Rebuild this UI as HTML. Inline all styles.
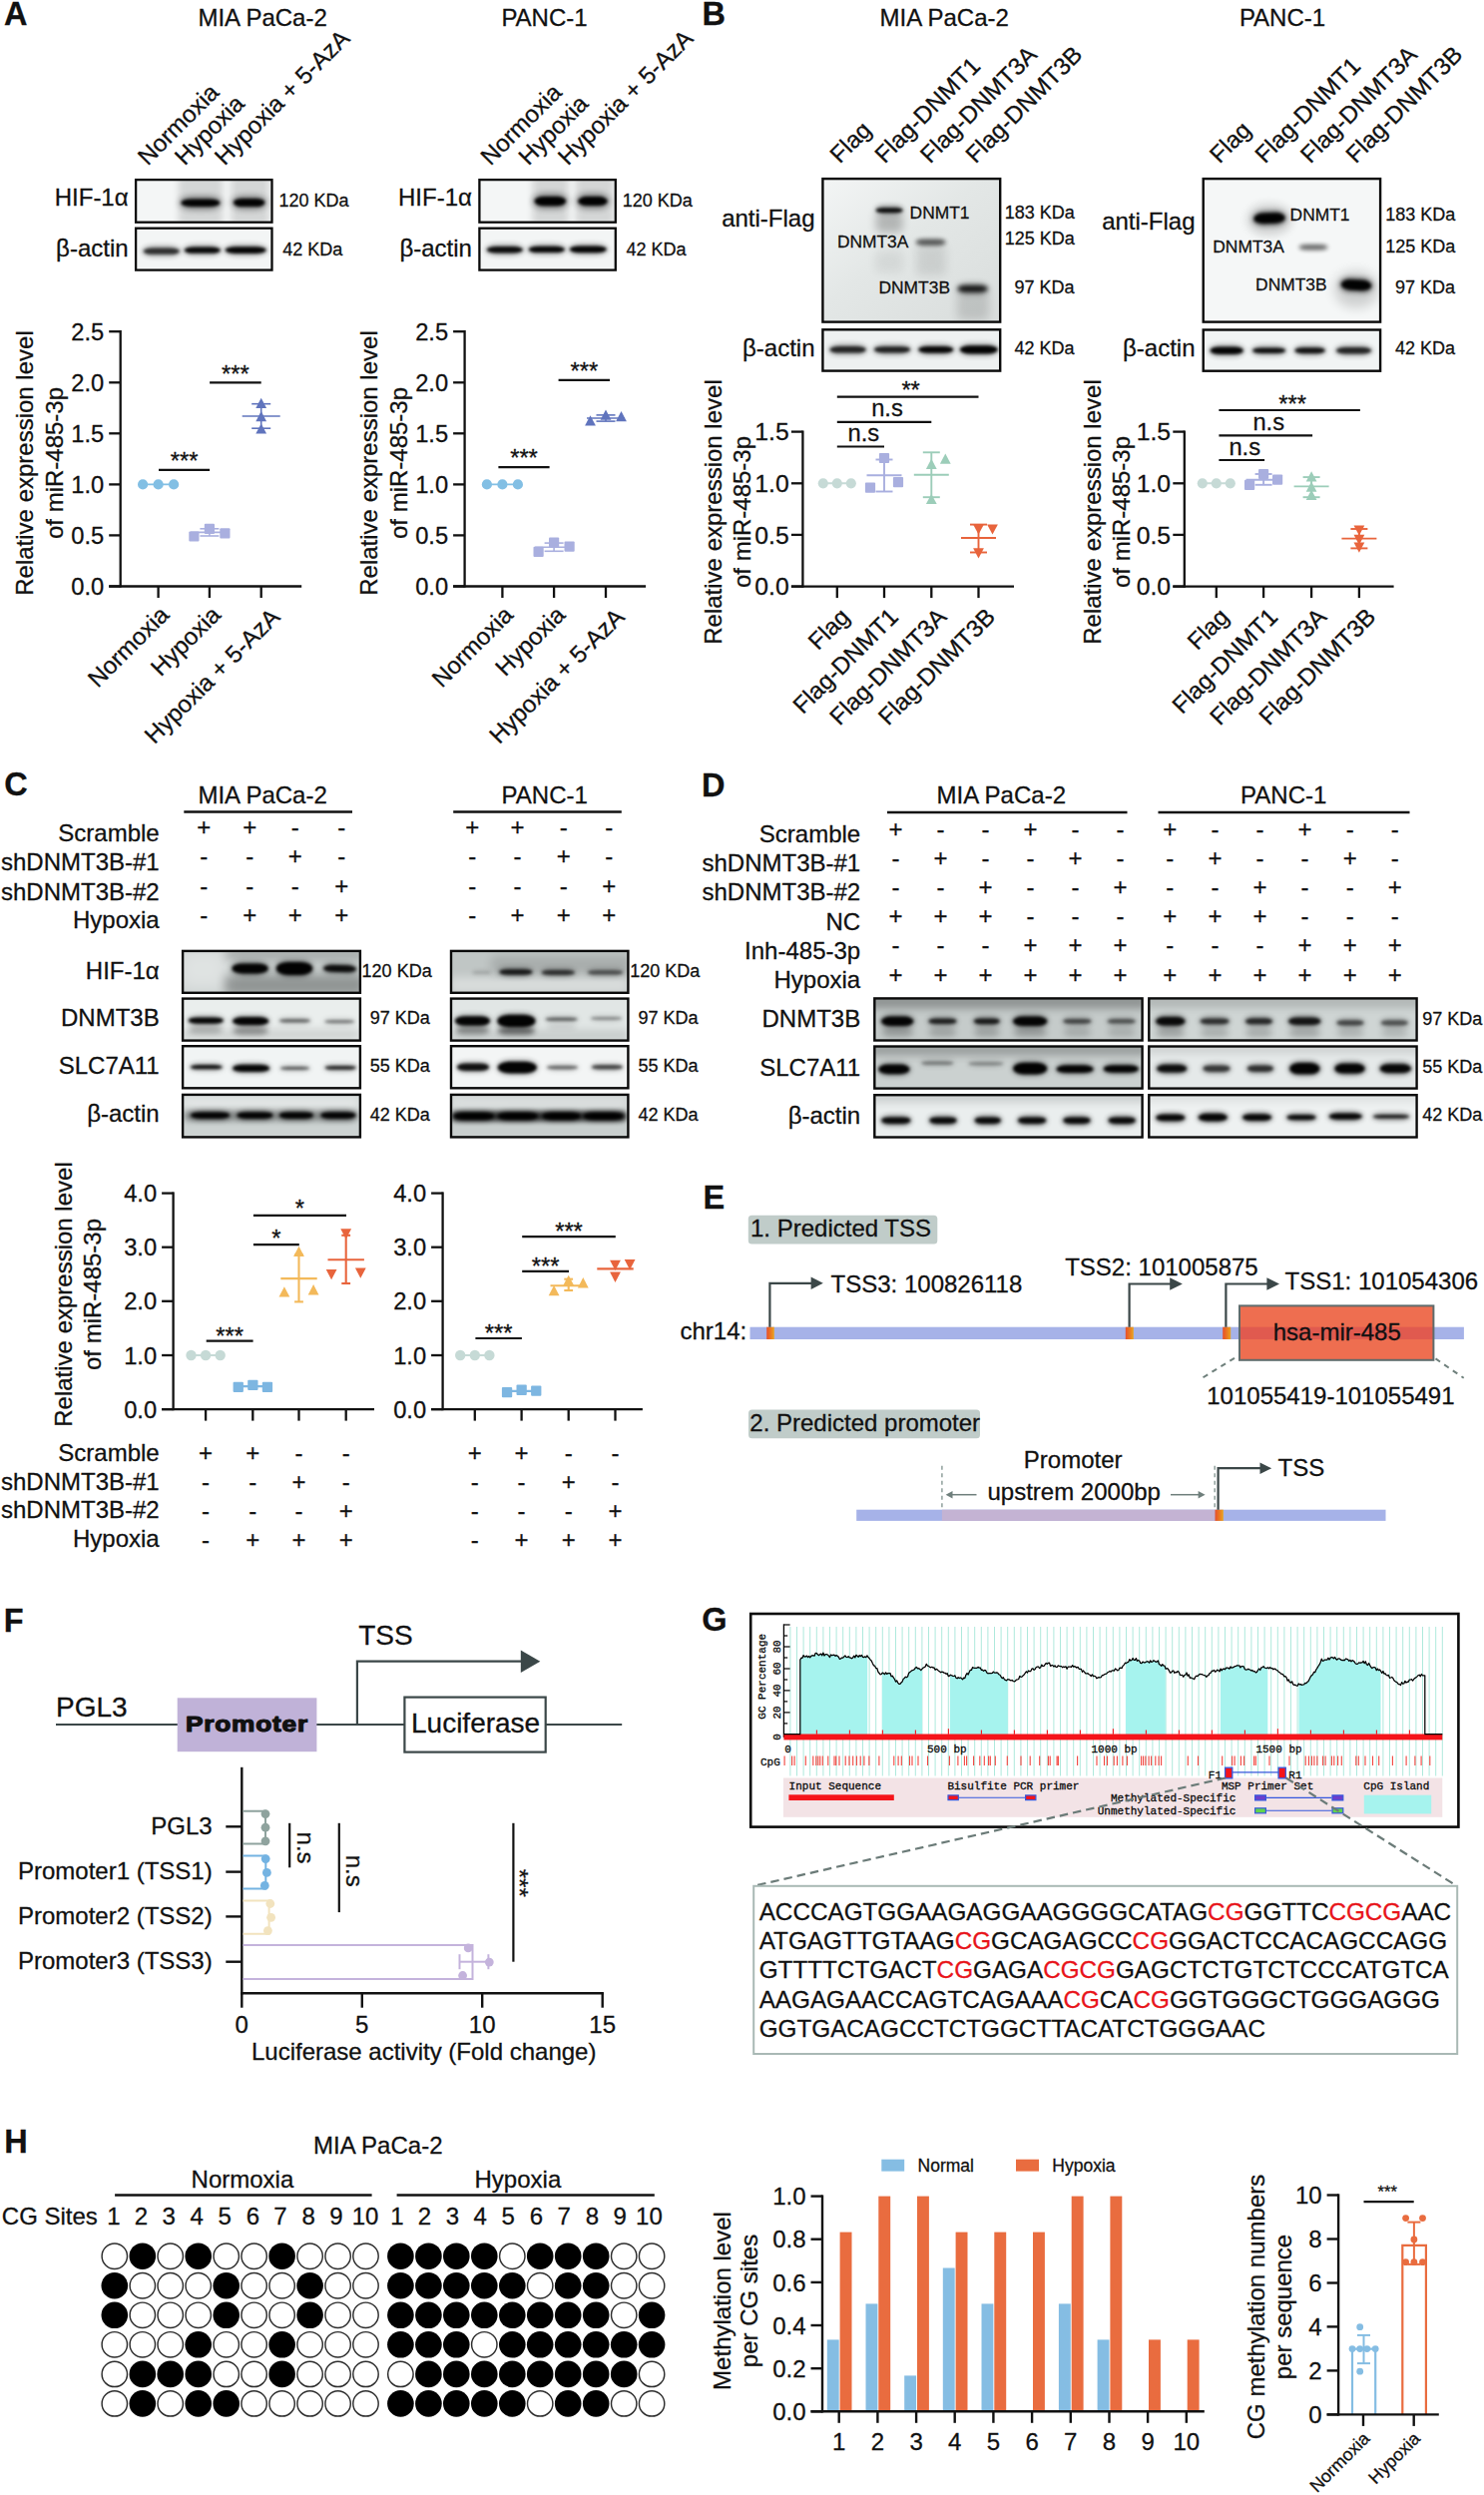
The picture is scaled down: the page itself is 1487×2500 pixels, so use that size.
<!DOCTYPE html>
<html lang="en"><head><meta charset="utf-8"><title>Figure</title>
<style>html,body{margin:0;padding:0;background:#fff}svg{display:block}text{font-family:"Liberation Sans", sans-serif;fill:#111;stroke:#111;stroke-width:.28px}text.m{font-family:"Liberation Mono",monospace;stroke:#000;stroke-width:0.3px}</style>
</head><body>
<svg width="1487" height="2500" viewBox="0 0 1487 2500">
<defs><filter id="b1_5" x="-30%" y="-100%" width="160%" height="300%"><feGaussianBlur stdDeviation="1.5"/></filter><filter id="b1_6" x="-30%" y="-100%" width="160%" height="300%"><feGaussianBlur stdDeviation="1.6"/></filter><filter id="b1_7" x="-30%" y="-100%" width="160%" height="300%"><feGaussianBlur stdDeviation="1.7"/></filter><filter id="b1_8" x="-30%" y="-100%" width="160%" height="300%"><feGaussianBlur stdDeviation="1.8"/></filter><filter id="b1_9" x="-30%" y="-100%" width="160%" height="300%"><feGaussianBlur stdDeviation="1.9"/></filter><filter id="b2_0" x="-30%" y="-100%" width="160%" height="300%"><feGaussianBlur stdDeviation="2.0"/></filter><filter id="b2_6" x="-30%" y="-100%" width="160%" height="300%"><feGaussianBlur stdDeviation="2.6"/></filter><filter id="b2_8" x="-30%" y="-100%" width="160%" height="300%"><feGaussianBlur stdDeviation="2.8"/></filter><filter id="b3" x="-30%" y="-100%" width="160%" height="300%"><feGaussianBlur stdDeviation="3"/></filter><filter id="b3_2" x="-30%" y="-100%" width="160%" height="300%"><feGaussianBlur stdDeviation="3.2"/></filter><filter id="b3_5" x="-30%" y="-100%" width="160%" height="300%"><feGaussianBlur stdDeviation="3.5"/></filter><filter id="b4" x="-30%" y="-100%" width="160%" height="300%"><feGaussianBlur stdDeviation="4"/></filter><filter id="b5" x="-30%" y="-100%" width="160%" height="300%"><feGaussianBlur stdDeviation="5"/></filter><filter id="b6" x="-30%" y="-100%" width="160%" height="300%"><feGaussianBlur stdDeviation="6"/></filter><filter id="b9" x="-30%" y="-100%" width="160%" height="300%"><feGaussianBlur stdDeviation="9"/></filter><linearGradient id="G1" x1="0" y1="0" x2="1" y2="1"><stop offset="0" stop-color="#f3f5f5"/><stop offset="0.45" stop-color="#e3e7e6"/><stop offset="1" stop-color="#d9dddc"/></linearGradient><linearGradient id="tssg" x1="0" x2="1" y1="0" y2="0"><stop offset="0" stop-color="#e84f2a"/><stop offset="0.55" stop-color="#ea7a22"/><stop offset="1" stop-color="#e8a622"/></linearGradient></defs>
<rect width="1487" height="2500" fill="#fff"/>
<text x="4.0" y="24.7" font-size="32.5" font-weight="bold">A</text>
<text x="263.1" y="25.6" font-size="24" text-anchor="middle">MIA PaCa-2</text>
<text x="545.5" y="25.6" font-size="24" text-anchor="middle">PANC-1</text>
<text transform="translate(148.0 166.7) rotate(-45)" font-size="24">Normoxia</text>
<text transform="translate(185.0 166.7) rotate(-45)" font-size="24">Hypoxia</text>
<text transform="translate(225.0 166.7) rotate(-45)" font-size="24">Hypoxia + 5-AzA</text>
<text transform="translate(491.5 166.7) rotate(-45)" font-size="24">Normoxia</text>
<text transform="translate(529.5 166.7) rotate(-45)" font-size="24">Hypoxia</text>
<text transform="translate(569.0 166.7) rotate(-45)" font-size="24">Hypoxia + 5-AzA</text>
<clipPath id="c1"><rect x="136.1" y="180.1" width="136.4" height="42.6"/></clipPath>
<g clip-path="url(#c1)">
<rect x="136.1" y="180.1" width="136.4" height="42.6" fill="#f4f6f6"/>
<rect x="178.9" y="175.0" width="44.0" height="50.0" rx="4.0" ry="4.0" fill="#000" opacity="0.13" filter="url(#b3_5)"/>
<rect x="231.5" y="175.0" width="38.0" height="50.0" rx="4.0" ry="4.0" fill="#000" opacity="0.13" filter="url(#b3_5)"/>
<rect x="179.9" y="196.7" width="42.0" height="13.0" rx="13.0" ry="6.5" fill="#000" opacity="0.45" filter="url(#b3_2)"/>
<rect x="232.2" y="196.5" width="35.0" height="13.0" rx="11.4" ry="6.5" fill="#000" opacity="0.45" filter="url(#b3_2)"/>
<rect x="181.4" y="199.4" width="39.0" height="7.6" rx="10.9" ry="3.8" fill="#000" opacity="0.97" filter="url(#b1_7)"/>
<rect x="233.9" y="198.9" width="31.5" height="8.2" rx="9.3" ry="4.1" fill="#000" opacity="0.97" filter="url(#b1_7)"/>
</g>
<rect x="136.1" y="180.1" width="136.4" height="42.6" fill="none" stroke="#0a0a0a" stroke-width="2.3"/>
<text x="128.6" y="206.2" font-size="24" text-anchor="end">HIF-1α</text>
<text x="279.5" y="206.5" font-size="18">120 KDa</text>
<clipPath id="c2"><rect x="136.1" y="228.7" width="136.4" height="41.9"/></clipPath>
<g clip-path="url(#c2)">
<rect x="136.1" y="228.7" width="136.4" height="41.9" fill="#f3f5f5"/>
<rect x="142.3" y="246.1" width="39.0" height="11.2" rx="11.9" ry="5.6" fill="#000" opacity="0.3" filter="url(#b2_6)"/>
<rect x="143.8" y="248.6" width="36.0" height="6.2" rx="9.8" ry="3.1" fill="#000" opacity="0.72" filter="url(#b1_5)"/>
<rect x="183.3" y="245.1" width="39.0" height="11.2" rx="11.9" ry="5.6" fill="#000" opacity="0.3" filter="url(#b2_6)"/>
<rect x="184.8" y="247.6" width="36.0" height="6.2" rx="9.8" ry="3.1" fill="#000" opacity="0.95" filter="url(#b1_5)"/>
<rect x="224.2" y="244.8" width="44.0" height="11.6" rx="13.1" ry="5.8" fill="#000" opacity="0.3" filter="url(#b2_6)"/>
<rect x="225.7" y="247.3" width="41.0" height="6.6" rx="11.0" ry="3.3" fill="#000" opacity="0.97" filter="url(#b1_5)"/>
</g>
<rect x="136.1" y="228.7" width="136.4" height="41.9" fill="none" stroke="#0a0a0a" stroke-width="2.3"/>
<text x="128.6" y="257.0" font-size="24" text-anchor="end">β-actin</text>
<text x="283.3" y="255.6" font-size="18">42 KDa</text>
<clipPath id="c3"><rect x="480.4" y="180.1" width="136.4" height="42.6"/></clipPath>
<g clip-path="url(#c3)">
<rect x="480.4" y="180.1" width="136.4" height="42.6" fill="#f4f6f6"/>
<rect x="533.5" y="175.0" width="36.0" height="50.0" rx="4.0" ry="4.0" fill="#000" opacity="0.13" filter="url(#b3_5)"/>
<rect x="577.0" y="175.0" width="38.0" height="50.0" rx="4.0" ry="4.0" fill="#000" opacity="0.13" filter="url(#b3_5)"/>
<rect x="533.9" y="194.1" width="35.0" height="15.0" rx="12.0" ry="7.5" fill="#000" opacity="0.45" filter="url(#b3_2)"/>
<rect x="577.5" y="194.1" width="33.0" height="15.0" rx="11.6" ry="7.5" fill="#000" opacity="0.45" filter="url(#b3_2)"/>
<rect x="535.6" y="196.9" width="31.5" height="9.4" rx="9.7" ry="4.7" fill="#000" opacity="0.98" filter="url(#b1_8)"/>
<rect x="579.2" y="197.1" width="29.5" height="9.0" rx="9.1" ry="4.5" fill="#000" opacity="0.98" filter="url(#b1_8)"/>
</g>
<rect x="480.4" y="180.1" width="136.4" height="42.6" fill="none" stroke="#0a0a0a" stroke-width="2.3"/>
<text x="472.9" y="206.2" font-size="24" text-anchor="end">HIF-1α</text>
<text x="623.8" y="206.5" font-size="18">120 KDa</text>
<clipPath id="c4"><rect x="480.4" y="228.7" width="136.4" height="41.9"/></clipPath>
<g clip-path="url(#c4)">
<rect x="480.4" y="228.7" width="136.4" height="41.9" fill="#f3f5f5"/>
<rect x="486.3" y="244.6" width="39.0" height="11.4" rx="11.9" ry="5.7" fill="#000" opacity="0.3" filter="url(#b2_6)"/>
<rect x="487.8" y="247.1" width="36.0" height="6.4" rx="9.9" ry="3.2" fill="#000" opacity="0.93" filter="url(#b1_5)"/>
<rect x="528.3" y="244.2" width="39.0" height="11.4" rx="11.9" ry="5.7" fill="#000" opacity="0.3" filter="url(#b2_6)"/>
<rect x="529.8" y="246.7" width="36.0" height="6.4" rx="9.9" ry="3.2" fill="#000" opacity="0.95" filter="url(#b1_5)"/>
<rect x="569.3" y="243.9" width="40.0" height="11.8" rx="12.2" ry="5.9" fill="#000" opacity="0.3" filter="url(#b2_6)"/>
<rect x="570.8" y="246.4" width="37.0" height="6.8" rx="10.2" ry="3.4" fill="#000" opacity="0.97" filter="url(#b1_5)"/>
</g>
<rect x="480.4" y="228.7" width="136.4" height="41.9" fill="none" stroke="#0a0a0a" stroke-width="2.3"/>
<text x="472.9" y="257.0" font-size="24" text-anchor="end">β-actin</text>
<text x="627.6" y="255.6" font-size="18">42 KDa</text>
<line x1="120.7" y1="331.1" x2="120.7" y2="588.6" stroke="#111" stroke-width="2.3"/>
<line x1="109.2" y1="587.5" x2="302.2" y2="587.5" stroke="#111" stroke-width="2.3"/>
<line x1="109.2" y1="587.5" x2="120.7" y2="587.5" stroke="#111" stroke-width="2.3"/>
<text x="104.2" y="596.0" font-size="23.7" text-anchor="end">0.0</text>
<line x1="109.2" y1="536.4" x2="120.7" y2="536.4" stroke="#111" stroke-width="2.3"/>
<text x="104.2" y="544.9" font-size="23.7" text-anchor="end">0.5</text>
<line x1="109.2" y1="485.4" x2="120.7" y2="485.4" stroke="#111" stroke-width="2.3"/>
<text x="104.2" y="493.9" font-size="23.7" text-anchor="end">1.0</text>
<line x1="109.2" y1="434.3" x2="120.7" y2="434.3" stroke="#111" stroke-width="2.3"/>
<text x="104.2" y="442.8" font-size="23.7" text-anchor="end">1.5</text>
<line x1="109.2" y1="383.3" x2="120.7" y2="383.3" stroke="#111" stroke-width="2.3"/>
<text x="104.2" y="391.7" font-size="23.7" text-anchor="end">2.0</text>
<line x1="109.2" y1="332.2" x2="120.7" y2="332.2" stroke="#111" stroke-width="2.3"/>
<text x="104.2" y="340.7" font-size="23.7" text-anchor="end">2.5</text>
<line x1="158.6" y1="587.5" x2="158.6" y2="599.0" stroke="#111" stroke-width="2.3"/>
<line x1="209.9" y1="587.5" x2="209.9" y2="599.0" stroke="#111" stroke-width="2.3"/>
<line x1="261.7" y1="587.5" x2="261.7" y2="599.0" stroke="#111" stroke-width="2.3"/>
<text transform="translate(33.4 464.0) rotate(-90)" font-size="24" text-anchor="middle">Relative expression level</text>
<text transform="translate(62.7 464.0) rotate(-90)" font-size="24" text-anchor="middle">of miR-485-3p</text>
<line x1="139.6" y1="485.4" x2="177.6" y2="485.4" stroke="#82bfe4" stroke-width="1.6"/>
<circle cx="143.1" cy="485.4" r="5.1" fill="#82bfe4"/>
<circle cx="158.6" cy="485.4" r="5.1" fill="#82bfe4"/>
<circle cx="174.1" cy="485.4" r="5.1" fill="#82bfe4"/>
<line x1="209.9" y1="529.8" x2="209.9" y2="537.0" stroke="#a9afdf" stroke-width="1.6"/>
<line x1="200.4" y1="529.8" x2="219.4" y2="529.8" stroke="#a9afdf" stroke-width="1.6"/>
<line x1="200.4" y1="537.0" x2="219.4" y2="537.0" stroke="#a9afdf" stroke-width="1.6"/>
<line x1="190.9" y1="533.4" x2="228.9" y2="533.4" stroke="#a9afdf" stroke-width="1.6"/>
<rect x="189.3" y="532.4" width="10.2" height="10.2" fill="#a9afdf" rx="1"/>
<rect x="204.8" y="524.7" width="10.2" height="10.2" fill="#a9afdf" rx="1"/>
<rect x="220.3" y="529.3" width="10.2" height="10.2" fill="#a9afdf" rx="1"/>
<line x1="261.7" y1="404.7" x2="261.7" y2="429.2" stroke="#6074bd" stroke-width="1.6"/>
<line x1="252.2" y1="404.7" x2="271.2" y2="404.7" stroke="#6074bd" stroke-width="1.6"/>
<line x1="252.2" y1="429.2" x2="271.2" y2="429.2" stroke="#6074bd" stroke-width="1.6"/>
<line x1="242.7" y1="417.0" x2="280.7" y2="417.0" stroke="#6074bd" stroke-width="1.6"/>
<path d="M261.7 398.8 L267.1 409.0 L256.3 409.0 Z" fill="#6074bd"/>
<path d="M261.7 412.1 L267.1 422.3 L256.3 422.3 Z" fill="#6074bd"/>
<path d="M261.7 424.4 L267.1 434.6 L256.3 434.6 Z" fill="#6074bd"/>
<line x1="159.0" y1="470.8" x2="210.1" y2="470.8" stroke="#111" stroke-width="2.2"/>
<text x="184.6" y="470.0" font-size="23.7" text-anchor="middle">***</text>
<line x1="210.1" y1="383.4" x2="261.7" y2="383.4" stroke="#111" stroke-width="2.2"/>
<text x="235.9" y="382.6" font-size="23.7" text-anchor="middle">***</text>
<text transform="translate(170.6 617.5) rotate(-45)" font-size="24" text-anchor="end">Normoxia</text>
<text transform="translate(222.4 617.5) rotate(-45)" font-size="24" text-anchor="end">Hypoxia</text>
<text transform="translate(281.7 619.7) rotate(-45)" font-size="24" text-anchor="end">Hypoxia + 5-AzA</text>
<line x1="465.6" y1="331.1" x2="465.6" y2="588.6" stroke="#111" stroke-width="2.3"/>
<line x1="454.1" y1="587.5" x2="647.1" y2="587.5" stroke="#111" stroke-width="2.3"/>
<line x1="454.1" y1="587.5" x2="465.6" y2="587.5" stroke="#111" stroke-width="2.3"/>
<text x="449.1" y="596.0" font-size="23.7" text-anchor="end">0.0</text>
<line x1="454.1" y1="536.4" x2="465.6" y2="536.4" stroke="#111" stroke-width="2.3"/>
<text x="449.1" y="544.9" font-size="23.7" text-anchor="end">0.5</text>
<line x1="454.1" y1="485.4" x2="465.6" y2="485.4" stroke="#111" stroke-width="2.3"/>
<text x="449.1" y="493.9" font-size="23.7" text-anchor="end">1.0</text>
<line x1="454.1" y1="434.3" x2="465.6" y2="434.3" stroke="#111" stroke-width="2.3"/>
<text x="449.1" y="442.8" font-size="23.7" text-anchor="end">1.5</text>
<line x1="454.1" y1="383.3" x2="465.6" y2="383.3" stroke="#111" stroke-width="2.3"/>
<text x="449.1" y="391.7" font-size="23.7" text-anchor="end">2.0</text>
<line x1="454.1" y1="332.2" x2="465.6" y2="332.2" stroke="#111" stroke-width="2.3"/>
<text x="449.1" y="340.7" font-size="23.7" text-anchor="end">2.5</text>
<line x1="503.4" y1="587.5" x2="503.4" y2="599.0" stroke="#111" stroke-width="2.3"/>
<line x1="555.1" y1="587.5" x2="555.1" y2="599.0" stroke="#111" stroke-width="2.3"/>
<line x1="607.0" y1="587.5" x2="607.0" y2="599.0" stroke="#111" stroke-width="2.3"/>
<text transform="translate(378.3 464.0) rotate(-90)" font-size="24" text-anchor="middle">Relative expression level</text>
<text transform="translate(407.6 464.0) rotate(-90)" font-size="24" text-anchor="middle">of miR-485-3p</text>
<line x1="484.4" y1="485.4" x2="522.4" y2="485.4" stroke="#82bfe4" stroke-width="1.6"/>
<circle cx="487.9" cy="485.4" r="5.1" fill="#82bfe4"/>
<circle cx="503.4" cy="485.4" r="5.1" fill="#82bfe4"/>
<circle cx="518.9" cy="485.4" r="5.1" fill="#82bfe4"/>
<line x1="555.1" y1="544.1" x2="555.1" y2="552.3" stroke="#a9afdf" stroke-width="1.6"/>
<line x1="545.6" y1="544.1" x2="564.6" y2="544.1" stroke="#a9afdf" stroke-width="1.6"/>
<line x1="545.6" y1="552.3" x2="564.6" y2="552.3" stroke="#a9afdf" stroke-width="1.6"/>
<line x1="536.1" y1="548.2" x2="574.1" y2="548.2" stroke="#a9afdf" stroke-width="1.6"/>
<rect x="534.5" y="547.7" width="10.2" height="10.2" fill="#a9afdf" rx="1"/>
<rect x="550.0" y="538.5" width="10.2" height="10.2" fill="#a9afdf" rx="1"/>
<rect x="565.5" y="542.6" width="10.2" height="10.2" fill="#a9afdf" rx="1"/>
<line x1="607.0" y1="415.9" x2="607.0" y2="422.1" stroke="#6074bd" stroke-width="1.6"/>
<line x1="597.5" y1="415.9" x2="616.5" y2="415.9" stroke="#6074bd" stroke-width="1.6"/>
<line x1="597.5" y1="422.1" x2="616.5" y2="422.1" stroke="#6074bd" stroke-width="1.6"/>
<line x1="588.0" y1="419.0" x2="626.0" y2="419.0" stroke="#6074bd" stroke-width="1.6"/>
<path d="M591.5 416.2 L596.9 426.4 L586.1 426.4 Z" fill="#6074bd"/>
<path d="M607.0 410.6 L612.4 420.8 L601.6 420.8 Z" fill="#6074bd"/>
<path d="M622.5 412.1 L627.9 422.3 L617.1 422.3 Z" fill="#6074bd"/>
<line x1="499.4" y1="468.2" x2="550.6" y2="468.2" stroke="#111" stroke-width="2.2"/>
<text x="525.0" y="467.0" font-size="23.7" text-anchor="middle">***</text>
<line x1="559.6" y1="380.9" x2="611.0" y2="380.9" stroke="#111" stroke-width="2.2"/>
<text x="585.3" y="379.7" font-size="23.7" text-anchor="middle">***</text>
<text transform="translate(515.4 617.5) rotate(-45)" font-size="24" text-anchor="end">Normoxia</text>
<text transform="translate(567.6 617.5) rotate(-45)" font-size="24" text-anchor="end">Hypoxia</text>
<text transform="translate(627.0 619.7) rotate(-45)" font-size="24" text-anchor="end">Hypoxia + 5-AzA</text>
<text x="703.4" y="24.7" font-size="32.5" font-weight="bold">B</text>
<text x="946.2" y="25.6" font-size="24" text-anchor="middle">MIA PaCa-2</text>
<text x="1285.0" y="25.6" font-size="24" text-anchor="middle">PANC-1</text>
<text transform="translate(841.5 164.7) rotate(-45)" font-size="24">Flag</text>
<text transform="translate(886.5 164.7) rotate(-45)" font-size="24">Flag-DNMT1</text>
<text transform="translate(932.0 164.7) rotate(-45)" font-size="24">Flag-DNMT3A</text>
<text transform="translate(977.5 164.7) rotate(-45)" font-size="24">Flag-DNMT3B</text>
<text transform="translate(1222.0 164.7) rotate(-45)" font-size="24">Flag</text>
<text transform="translate(1267.5 164.7) rotate(-45)" font-size="24">Flag-DNMT1</text>
<text transform="translate(1313.0 164.7) rotate(-45)" font-size="24">Flag-DNMT3A</text>
<text transform="translate(1358.5 164.7) rotate(-45)" font-size="24">Flag-DNMT3B</text>
<clipPath id="c5"><rect x="824.4" y="179.1" width="177.8" height="143.5"/></clipPath>
<g clip-path="url(#c5)">
<rect x="824.4" y="179.1" width="177.8" height="143.5" fill="url(#G1)"/>
<rect x="877.5" y="211.0" width="27.0" height="22.0" rx="5.0" ry="5.0" fill="#000" opacity="0.22" filter="url(#b4)"/>
<rect x="877.0" y="251.0" width="28.0" height="22.0" rx="5.0" ry="5.0" fill="#000" opacity="0.06" filter="url(#b5)"/>
<rect x="918.0" y="244.0" width="30.0" height="32.0" rx="5.0" ry="5.0" fill="#000" opacity="0.09" filter="url(#b5)"/>
<rect x="959.0" y="289.0" width="32.0" height="32.0" rx="5.0" ry="5.0" fill="#000" opacity="0.13" filter="url(#b5)"/>
<rect x="877.6" y="208.2" width="27.0" height="5.0" rx="7.5" ry="2.5" fill="#000" opacity="0.9" filter="url(#b1_5)"/>
<rect x="877.1" y="205.5" width="28.0" height="9.0" rx="8.8" ry="4.5" fill="#000" opacity="0.3" filter="url(#b2_6)"/>
<rect x="917.6" y="239.4" width="30.0" height="6.5" rx="8.5" ry="3.2" fill="#000" opacity="0.62" filter="url(#b2_0)"/>
<rect x="959.6" y="285.9" width="30.0" height="6.8" rx="8.6" ry="3.4" fill="#000" opacity="0.85" filter="url(#b1_9)"/>
<rect x="958.6" y="283.8" width="32.0" height="11.0" rx="10.2" ry="5.5" fill="#000" opacity="0.3" filter="url(#b3)"/>
</g>
<rect x="824.4" y="179.1" width="177.8" height="143.5" fill="none" stroke="#0a0a0a" stroke-width="2.4"/>
<text x="911.6" y="218.8" font-size="17.4">DNMT1</text>
<text x="838.9" y="247.5" font-size="17.4">DNMT3A</text>
<text x="880.5" y="294.1" font-size="17.4">DNMT3B</text>
<clipPath id="c6"><rect x="824.4" y="330.3" width="177.8" height="41.3"/></clipPath>
<g clip-path="url(#c6)">
<rect x="824.4" y="330.3" width="177.8" height="41.3" fill="#eef1f1"/>
<rect x="830.1" y="344.6" width="39.0" height="11.5" rx="11.9" ry="5.8" fill="#000" opacity="0.3" filter="url(#b2_6)"/>
<rect x="831.6" y="347.1" width="36.0" height="6.5" rx="9.9" ry="3.2" fill="#000" opacity="0.78" filter="url(#b1_6)"/>
<rect x="874.5" y="344.7" width="39.0" height="11.2" rx="11.9" ry="5.6" fill="#000" opacity="0.3" filter="url(#b2_6)"/>
<rect x="876.0" y="347.2" width="36.0" height="6.2" rx="9.8" ry="3.1" fill="#000" opacity="0.8" filter="url(#b1_6)"/>
<rect x="918.8" y="344.4" width="38.0" height="11.8" rx="11.8" ry="5.9" fill="#000" opacity="0.3" filter="url(#b2_6)"/>
<rect x="920.3" y="346.9" width="35.0" height="6.8" rx="9.7" ry="3.4" fill="#000" opacity="0.95" filter="url(#b1_6)"/>
<rect x="960.3" y="343.7" width="41.0" height="13.2" rx="12.9" ry="6.6" fill="#000" opacity="0.3" filter="url(#b2_6)"/>
<rect x="961.8" y="346.2" width="38.0" height="8.2" rx="10.8" ry="4.1" fill="#000" opacity="0.98" filter="url(#b1_6)"/>
</g>
<rect x="824.4" y="330.3" width="177.8" height="41.3" fill="none" stroke="#0a0a0a" stroke-width="2.4"/>
<text x="816.5" y="226.8" font-size="24" text-anchor="end">anti-Flag</text>
<text x="816.5" y="357.3" font-size="24" text-anchor="end">β-actin</text>
<text x="1006.8" y="218.8" font-size="18">183 KDa</text>
<text x="1006.8" y="244.6" font-size="18">125 KDa</text>
<text x="1016.6" y="294.1" font-size="18">97 KDa</text>
<text x="1016.6" y="355.0" font-size="18">42 KDa</text>
<clipPath id="c7"><rect x="1205.7" y="179.1" width="177.4" height="143.5"/></clipPath>
<g clip-path="url(#c7)">
<rect x="1205.7" y="179.1" width="177.4" height="143.5" fill="#f5f7f7"/>
<rect x="1250.0" y="205.0" width="44.0" height="30.0" rx="18.1" ry="15.0" fill="#000" opacity="0.16" filter="url(#b5)"/>
<rect x="1337.0" y="272.0" width="44.0" height="36.0" rx="19.8" ry="18.0" fill="#000" opacity="0.16" filter="url(#b6)"/>
<rect x="1255.0" y="211.2" width="34.0" height="15.0" rx="11.8" ry="7.5" fill="#000" opacity="0.5" filter="url(#b2_8)" transform="rotate(-2 1272.0 218.7)"/>
<rect x="1256.5" y="213.6" width="31.0" height="10.2" rx="9.8" ry="5.1" fill="#000" opacity="0.98" filter="url(#b1_6)" transform="rotate(-2 1272.0 218.7)"/>
<rect x="1301.5" y="244.9" width="29.0" height="5.6" rx="8.1" ry="2.8" fill="#000" opacity="0.6" filter="url(#b2_0)"/>
<rect x="1342.0" y="278.1" width="34.0" height="15.0" rx="11.8" ry="7.5" fill="#000" opacity="0.5" filter="url(#b2_8)" transform="rotate(3 1359.0 285.6)"/>
<rect x="1344.0" y="280.5" width="30.0" height="10.2" rx="9.6" ry="5.1" fill="#000" opacity="0.98" filter="url(#b1_6)" transform="rotate(3 1359.0 285.6)"/>
</g>
<rect x="1205.7" y="179.1" width="177.4" height="143.5" fill="none" stroke="#0a0a0a" stroke-width="2.4"/>
<text x="1292.6" y="221.4" font-size="17.4">DNMT1</text>
<text x="1215.3" y="252.6" font-size="17.4">DNMT3A</text>
<text x="1258.1" y="290.9" font-size="17.4">DNMT3B</text>
<clipPath id="c8"><rect x="1205.7" y="330.5" width="177.4" height="41.2"/></clipPath>
<g clip-path="url(#c8)">
<rect x="1205.7" y="330.5" width="177.4" height="41.2" fill="#f1f4f4"/>
<rect x="1211.2" y="344.9" width="36.0" height="12.6" rx="11.6" ry="6.3" fill="#000" opacity="0.3" filter="url(#b2_6)"/>
<rect x="1212.7" y="347.4" width="33.0" height="7.6" rx="9.5" ry="3.8" fill="#000" opacity="0.97" filter="url(#b1_6)"/>
<rect x="1253.6" y="345.9" width="36.0" height="10.6" rx="11.0" ry="5.3" fill="#000" opacity="0.3" filter="url(#b2_6)"/>
<rect x="1255.1" y="348.4" width="33.0" height="5.6" rx="9.0" ry="2.8" fill="#000" opacity="0.9" filter="url(#b1_6)"/>
<rect x="1296.1" y="345.7" width="33.0" height="11.0" rx="10.4" ry="5.5" fill="#000" opacity="0.3" filter="url(#b2_6)"/>
<rect x="1297.6" y="348.2" width="30.0" height="6.0" rx="8.4" ry="3.0" fill="#000" opacity="0.88" filter="url(#b1_6)"/>
<rect x="1337.5" y="345.5" width="38.0" height="11.4" rx="11.7" ry="5.7" fill="#000" opacity="0.3" filter="url(#b2_6)"/>
<rect x="1339.0" y="348.0" width="35.0" height="6.4" rx="9.6" ry="3.2" fill="#000" opacity="0.78" filter="url(#b1_6)"/>
</g>
<rect x="1205.7" y="330.5" width="177.4" height="41.2" fill="none" stroke="#0a0a0a" stroke-width="2.4"/>
<text x="1197.5" y="229.5" font-size="24" text-anchor="end">anti-Flag</text>
<text x="1197.5" y="357.3" font-size="24" text-anchor="end">β-actin</text>
<text x="1388.2" y="221.4" font-size="18">183 KDa</text>
<text x="1388.2" y="252.6" font-size="18">125 KDa</text>
<text x="1397.9" y="294.1" font-size="18">97 KDa</text>
<text x="1397.9" y="355.0" font-size="18">42 KDa</text>
<line x1="804.4" y1="431.5" x2="804.4" y2="588.8" stroke="#111" stroke-width="2.3"/>
<line x1="792.9" y1="587.6" x2="1016.0" y2="587.6" stroke="#111" stroke-width="2.3"/>
<line x1="792.9" y1="587.6" x2="804.4" y2="587.6" stroke="#111" stroke-width="2.3"/>
<text x="790.7" y="596.4" font-size="24.7" text-anchor="end">0.0</text>
<line x1="792.9" y1="535.9" x2="804.4" y2="535.9" stroke="#111" stroke-width="2.3"/>
<text x="790.7" y="544.8" font-size="24.7" text-anchor="end">0.5</text>
<line x1="792.9" y1="484.3" x2="804.4" y2="484.3" stroke="#111" stroke-width="2.3"/>
<text x="790.7" y="493.1" font-size="24.7" text-anchor="end">1.0</text>
<line x1="792.9" y1="432.6" x2="804.4" y2="432.6" stroke="#111" stroke-width="2.3"/>
<text x="790.7" y="441.4" font-size="24.7" text-anchor="end">1.5</text>
<line x1="838.8" y1="587.6" x2="838.8" y2="599.1" stroke="#111" stroke-width="2.3"/>
<line x1="886.0" y1="587.6" x2="886.0" y2="599.1" stroke="#111" stroke-width="2.3"/>
<line x1="933.3" y1="587.6" x2="933.3" y2="599.1" stroke="#111" stroke-width="2.3"/>
<line x1="980.5" y1="587.6" x2="980.5" y2="599.1" stroke="#111" stroke-width="2.3"/>
<text transform="translate(723.0 513.0) rotate(-90)" font-size="24" text-anchor="middle">Relative expression level</text>
<text transform="translate(751.8 513.0) rotate(-90)" font-size="24" text-anchor="middle">of miR-485-3p</text>
<line x1="821.3" y1="484.3" x2="856.3" y2="484.3" stroke="#c6dad6" stroke-width="1.9"/>
<circle cx="824.8" cy="484.3" r="5.1" fill="#c6dad6"/>
<circle cx="838.8" cy="484.3" r="5.1" fill="#c6dad6"/>
<circle cx="852.8" cy="484.3" r="5.1" fill="#c6dad6"/>
<line x1="886.0" y1="460.5" x2="886.0" y2="492.5" stroke="#a9afdf" stroke-width="1.9"/>
<line x1="877.5" y1="460.5" x2="894.5" y2="460.5" stroke="#a9afdf" stroke-width="1.9"/>
<line x1="877.5" y1="492.5" x2="894.5" y2="492.5" stroke="#a9afdf" stroke-width="1.9"/>
<line x1="868.5" y1="476.2" x2="903.5" y2="476.2" stroke="#a9afdf" stroke-width="1.9"/>
<rect x="866.9" y="483.5" width="10.2" height="10.2" fill="#a9afdf" rx="1"/>
<rect x="880.9" y="453.9" width="10.2" height="10.2" fill="#a9afdf" rx="1"/>
<rect x="894.9" y="478.1" width="10.2" height="10.2" fill="#a9afdf" rx="1"/>
<line x1="933.3" y1="453.3" x2="933.3" y2="498.2" stroke="#9ccdb9" stroke-width="1.9"/>
<line x1="924.8" y1="453.3" x2="941.8" y2="453.3" stroke="#9ccdb9" stroke-width="1.9"/>
<line x1="924.8" y1="498.2" x2="941.8" y2="498.2" stroke="#9ccdb9" stroke-width="1.9"/>
<line x1="915.8" y1="475.7" x2="950.8" y2="475.7" stroke="#9ccdb9" stroke-width="1.9"/>
<path d="M933.3 459.8 L938.7 470.0 L927.9 470.0 Z" fill="#9ccdb9"/>
<path d="M947.3 454.6 L952.7 464.8 L941.9 464.8 Z" fill="#9ccdb9"/>
<path d="M933.3 494.9 L938.7 505.1 L927.9 505.1 Z" fill="#9ccdb9"/>
<line x1="980.5" y1="525.6" x2="980.5" y2="553.5" stroke="#e8643c" stroke-width="1.9"/>
<line x1="972.0" y1="525.6" x2="989.0" y2="525.6" stroke="#e8643c" stroke-width="1.9"/>
<line x1="972.0" y1="553.5" x2="989.0" y2="553.5" stroke="#e8643c" stroke-width="1.9"/>
<line x1="963.0" y1="539.0" x2="998.0" y2="539.0" stroke="#e8643c" stroke-width="1.9"/>
<path d="M980.5 535.6 L985.9 525.4 L975.1 525.4 Z" fill="#e8643c"/>
<path d="M994.5 535.6 L999.9 525.4 L989.1 525.4 Z" fill="#e8643c"/>
<path d="M980.5 559.4 L985.9 549.2 L975.1 549.2 Z" fill="#e8643c"/>
<line x1="838.8" y1="397.6" x2="980.5" y2="397.6" stroke="#111" stroke-width="2.2"/>
<text x="912.6" y="399.1" font-size="23.7" text-anchor="middle">**</text>
<line x1="838.8" y1="422.8" x2="933.3" y2="422.8" stroke="#111" stroke-width="2.2"/>
<text x="889.0" y="417.3" font-size="23.7" text-anchor="middle">n.s</text>
<line x1="838.8" y1="447.5" x2="886.0" y2="447.5" stroke="#111" stroke-width="2.2"/>
<text x="865.4" y="442.0" font-size="23.7" text-anchor="middle">n.s</text>
<text transform="translate(852.8 619.5) rotate(-45)" font-size="24" text-anchor="end">Flag</text>
<text transform="translate(901.5 619.5) rotate(-45)" font-size="24" text-anchor="end">Flag-DNMT1</text>
<text transform="translate(949.8 619.5) rotate(-45)" font-size="24" text-anchor="end">Flag-DNMT3A</text>
<text transform="translate(998.5 619.5) rotate(-45)" font-size="24" text-anchor="end">Flag-DNMT3B</text>
<line x1="1186.8" y1="431.5" x2="1186.8" y2="588.8" stroke="#111" stroke-width="2.3"/>
<line x1="1175.3" y1="587.6" x2="1396.6" y2="587.6" stroke="#111" stroke-width="2.3"/>
<line x1="1175.3" y1="587.6" x2="1186.8" y2="587.6" stroke="#111" stroke-width="2.3"/>
<text x="1173.1" y="596.4" font-size="24.7" text-anchor="end">0.0</text>
<line x1="1175.3" y1="535.9" x2="1186.8" y2="535.9" stroke="#111" stroke-width="2.3"/>
<text x="1173.1" y="544.8" font-size="24.7" text-anchor="end">0.5</text>
<line x1="1175.3" y1="484.3" x2="1186.8" y2="484.3" stroke="#111" stroke-width="2.3"/>
<text x="1173.1" y="493.1" font-size="24.7" text-anchor="end">1.0</text>
<line x1="1175.3" y1="432.6" x2="1186.8" y2="432.6" stroke="#111" stroke-width="2.3"/>
<text x="1173.1" y="441.4" font-size="24.7" text-anchor="end">1.5</text>
<line x1="1218.8" y1="587.6" x2="1218.8" y2="599.1" stroke="#111" stroke-width="2.3"/>
<line x1="1266.1" y1="587.6" x2="1266.1" y2="599.1" stroke="#111" stroke-width="2.3"/>
<line x1="1314.1" y1="587.6" x2="1314.1" y2="599.1" stroke="#111" stroke-width="2.3"/>
<line x1="1361.9" y1="587.6" x2="1361.9" y2="599.1" stroke="#111" stroke-width="2.3"/>
<text transform="translate(1103.0 513.0) rotate(-90)" font-size="24" text-anchor="middle">Relative expression level</text>
<text transform="translate(1132.0 513.0) rotate(-90)" font-size="24" text-anchor="middle">of miR-485-3p</text>
<line x1="1201.3" y1="484.3" x2="1236.3" y2="484.3" stroke="#c6dad6" stroke-width="1.9"/>
<circle cx="1204.8" cy="484.3" r="5.1" fill="#c6dad6"/>
<circle cx="1218.8" cy="484.3" r="5.1" fill="#c6dad6"/>
<circle cx="1232.8" cy="484.3" r="5.1" fill="#c6dad6"/>
<line x1="1266.1" y1="475.0" x2="1266.1" y2="485.8" stroke="#a9afdf" stroke-width="1.9"/>
<line x1="1257.6" y1="475.0" x2="1274.6" y2="475.0" stroke="#a9afdf" stroke-width="1.9"/>
<line x1="1257.6" y1="485.8" x2="1274.6" y2="485.8" stroke="#a9afdf" stroke-width="1.9"/>
<line x1="1248.6" y1="480.7" x2="1283.6" y2="480.7" stroke="#a9afdf" stroke-width="1.9"/>
<rect x="1247.0" y="480.7" width="10.2" height="10.2" fill="#a9afdf" rx="1"/>
<rect x="1261.0" y="469.9" width="10.2" height="10.2" fill="#a9afdf" rx="1"/>
<rect x="1275.0" y="475.6" width="10.2" height="10.2" fill="#a9afdf" rx="1"/>
<line x1="1314.1" y1="478.1" x2="1314.1" y2="498.2" stroke="#9ccdb9" stroke-width="1.9"/>
<line x1="1305.6" y1="478.1" x2="1322.6" y2="478.1" stroke="#9ccdb9" stroke-width="1.9"/>
<line x1="1305.6" y1="498.2" x2="1322.6" y2="498.2" stroke="#9ccdb9" stroke-width="1.9"/>
<line x1="1296.6" y1="487.4" x2="1331.6" y2="487.4" stroke="#9ccdb9" stroke-width="1.9"/>
<path d="M1314.1 472.2 L1319.5 482.4 L1308.7 482.4 Z" fill="#9ccdb9"/>
<path d="M1314.1 482.5 L1319.5 492.7 L1308.7 492.7 Z" fill="#9ccdb9"/>
<path d="M1314.1 490.8 L1319.5 501.0 L1308.7 501.0 Z" fill="#9ccdb9"/>
<line x1="1361.9" y1="530.0" x2="1361.9" y2="549.4" stroke="#e8643c" stroke-width="1.9"/>
<line x1="1353.4" y1="530.0" x2="1370.4" y2="530.0" stroke="#e8643c" stroke-width="1.9"/>
<line x1="1353.4" y1="549.4" x2="1370.4" y2="549.4" stroke="#e8643c" stroke-width="1.9"/>
<line x1="1344.4" y1="539.6" x2="1379.4" y2="539.6" stroke="#e8643c" stroke-width="1.9"/>
<path d="M1361.9 536.6 L1367.3 526.4 L1356.5 526.4 Z" fill="#e8643c"/>
<path d="M1361.9 545.9 L1367.3 535.7 L1356.5 535.7 Z" fill="#e8643c"/>
<path d="M1361.9 553.7 L1367.3 543.5 L1356.5 543.5 Z" fill="#e8643c"/>
<line x1="1221.4" y1="411.0" x2="1362.9" y2="411.0" stroke="#111" stroke-width="2.2"/>
<text x="1295.2" y="412.5" font-size="23.7" text-anchor="middle">***</text>
<line x1="1221.4" y1="436.3" x2="1315.1" y2="436.3" stroke="#111" stroke-width="2.2"/>
<text x="1271.2" y="430.8" font-size="23.7" text-anchor="middle">n.s</text>
<line x1="1221.4" y1="461.0" x2="1267.1" y2="461.0" stroke="#111" stroke-width="2.2"/>
<text x="1247.2" y="455.5" font-size="23.7" text-anchor="middle">n.s</text>
<text transform="translate(1232.8 619.5) rotate(-45)" font-size="24" text-anchor="end">Flag</text>
<text transform="translate(1281.6 619.5) rotate(-45)" font-size="24" text-anchor="end">Flag-DNMT1</text>
<text transform="translate(1330.6 619.5) rotate(-45)" font-size="24" text-anchor="end">Flag-DNMT3A</text>
<text transform="translate(1379.9 619.5) rotate(-45)" font-size="24" text-anchor="end">Flag-DNMT3B</text>
<text x="4.3" y="797.4" font-size="32.5" font-weight="bold">C</text>
<text x="263.1" y="804.6" font-size="24" text-anchor="middle">MIA PaCa-2</text>
<text x="545.7" y="804.6" font-size="24" text-anchor="middle">PANC-1</text>
<line x1="184.3" y1="813.5" x2="353.0" y2="813.5" stroke="#111" stroke-width="2.4"/>
<line x1="454.2" y1="813.5" x2="622.8" y2="813.5" stroke="#111" stroke-width="2.4"/>
<text x="159.7" y="842.7" font-size="24" text-anchor="end">Scramble</text>
<text x="159.7" y="872.3" font-size="24" text-anchor="end">shDNMT3B-#1</text>
<text x="159.7" y="901.6" font-size="24" text-anchor="end">shDNMT3B-#2</text>
<text x="159.7" y="930.4" font-size="24" text-anchor="end">Hypoxia</text>
<text x="204.3" y="836.8" font-size="24" text-anchor="middle">+</text>
<text x="250.2" y="836.8" font-size="24" text-anchor="middle">+</text>
<text x="295.8" y="836.8" font-size="24" text-anchor="middle">-</text>
<text x="342.2" y="836.8" font-size="24" text-anchor="middle">-</text>
<text x="204.3" y="866.1" font-size="24" text-anchor="middle">-</text>
<text x="250.2" y="866.1" font-size="24" text-anchor="middle">-</text>
<text x="295.8" y="866.1" font-size="24" text-anchor="middle">+</text>
<text x="342.2" y="866.1" font-size="24" text-anchor="middle">-</text>
<text x="204.3" y="895.5" font-size="24" text-anchor="middle">-</text>
<text x="250.2" y="895.5" font-size="24" text-anchor="middle">-</text>
<text x="295.8" y="895.5" font-size="24" text-anchor="middle">-</text>
<text x="342.2" y="895.5" font-size="24" text-anchor="middle">+</text>
<text x="204.3" y="924.8" font-size="24" text-anchor="middle">-</text>
<text x="250.2" y="924.8" font-size="24" text-anchor="middle">+</text>
<text x="295.8" y="924.8" font-size="24" text-anchor="middle">+</text>
<text x="342.2" y="924.8" font-size="24" text-anchor="middle">+</text>
<text x="473.2" y="836.8" font-size="24" text-anchor="middle">+</text>
<text x="518.6" y="836.8" font-size="24" text-anchor="middle">+</text>
<text x="564.8" y="836.8" font-size="24" text-anchor="middle">-</text>
<text x="610.2" y="836.8" font-size="24" text-anchor="middle">-</text>
<text x="473.2" y="866.1" font-size="24" text-anchor="middle">-</text>
<text x="518.6" y="866.1" font-size="24" text-anchor="middle">-</text>
<text x="564.8" y="866.1" font-size="24" text-anchor="middle">+</text>
<text x="610.2" y="866.1" font-size="24" text-anchor="middle">-</text>
<text x="473.2" y="895.5" font-size="24" text-anchor="middle">-</text>
<text x="518.6" y="895.5" font-size="24" text-anchor="middle">-</text>
<text x="564.8" y="895.5" font-size="24" text-anchor="middle">-</text>
<text x="610.2" y="895.5" font-size="24" text-anchor="middle">+</text>
<text x="473.2" y="924.8" font-size="24" text-anchor="middle">-</text>
<text x="518.6" y="924.8" font-size="24" text-anchor="middle">+</text>
<text x="564.8" y="924.8" font-size="24" text-anchor="middle">+</text>
<text x="610.2" y="924.8" font-size="24" text-anchor="middle">+</text>
<text x="159.7" y="980.6" font-size="24" text-anchor="end">HIF-1α</text>
<text x="159.7" y="1028.2" font-size="24" text-anchor="end">DNMT3B</text>
<text x="159.7" y="1075.8" font-size="24" text-anchor="end">SLC7A11</text>
<text x="159.7" y="1124.0" font-size="24" text-anchor="end">β-actin</text>
<text x="362.6" y="978.6" font-size="18">120 KDa</text>
<text x="370.7" y="1026.2" font-size="18">97 KDa</text>
<text x="370.7" y="1074.3" font-size="18">55 KDa</text>
<text x="370.7" y="1122.8" font-size="18">42 KDa</text>
<text x="631.3" y="978.6" font-size="18">120 KDa</text>
<text x="639.4" y="1026.2" font-size="18">97 KDa</text>
<text x="639.4" y="1074.3" font-size="18">55 KDa</text>
<text x="639.4" y="1122.8" font-size="18">42 KDa</text>
<clipPath id="c9"><rect x="183.1" y="952.9" width="177.8" height="41.9"/></clipPath>
<g clip-path="url(#c9)">
<rect x="183.1" y="952.9" width="177.8" height="41.9" fill="#c9cfce"/>
<rect x="177.1" y="948.9" width="52.0" height="44.0" rx="6.0" ry="6.0" fill="#fff" opacity="0.42" filter="url(#b9)"/>
<rect x="225.1" y="976.9" width="140.0" height="20.0" rx="5.0" ry="5.0" fill="#000" opacity="0.28" filter="url(#b5)"/>
<rect x="225.1" y="951.9" width="140.0" height="10.0" rx="5.0" ry="5.0" fill="#000" opacity="0.18" filter="url(#b4)"/>
<rect x="231.1" y="963.4" width="39.0" height="14.0" rx="12.6" ry="7.0" fill="#000" opacity="0.388" filter="url(#b2_6)"/>
<rect x="232.6" y="965.4" width="36.0" height="10.0" rx="10.9" ry="5.0" fill="#000" opacity="0.97" filter="url(#b1_5)"/>
<rect x="275.5" y="961.9" width="39.0" height="17.0" rx="13.4" ry="8.5" fill="#000" opacity="0.392" filter="url(#b2_6)"/>
<rect x="277.0" y="963.9" width="36.0" height="13.0" rx="11.7" ry="6.5" fill="#000" opacity="0.98" filter="url(#b1_5)"/>
<rect x="322.5" y="965.1" width="36.0" height="11.0" rx="11.1" ry="5.5" fill="#000" opacity="0.36000000000000004" filter="url(#b2_6)" transform="rotate(1.5 340.5 970.6)"/>
<rect x="324.0" y="967.1" width="33.0" height="7.0" rx="9.4" ry="3.5" fill="#000" opacity="0.9" filter="url(#b1_5)" transform="rotate(1.5 340.5 970.6)"/>
</g>
<rect x="183.1" y="952.9" width="177.8" height="41.9" fill="none" stroke="#0a0a0a" stroke-width="2.4"/>
<clipPath id="c10"><rect x="183.1" y="1000.6" width="177.8" height="42.0"/></clipPath>
<g clip-path="url(#c10)">
<rect x="183.1" y="1000.6" width="177.8" height="42.0" fill="#eaeeed"/>
<rect x="181.1" y="1031.6" width="180.0" height="10.0" rx="5.0" ry="5.0" fill="#000" opacity="0.12" filter="url(#b4)"/>
<rect x="189.0" y="1028.5" width="34.0" height="7.0" rx="9.6" ry="3.5" fill="#000" opacity="0.22" filter="url(#b2_8)"/>
<rect x="233.0" y="1029.0" width="36.0" height="8.0" rx="10.3" ry="4.0" fill="#000" opacity="0.34" filter="url(#b2_8)"/>
<rect x="187.3" y="1017.4" width="38.0" height="10.4" rx="11.4" ry="5.2" fill="#000" opacity="0.3072" filter="url(#b2_6)"/>
<rect x="188.8" y="1019.4" width="35.0" height="6.4" rx="9.6" ry="3.2" fill="#000" opacity="0.96" filter="url(#b1_5)"/>
<rect x="231.7" y="1017.1" width="39.0" height="12.2" rx="12.1" ry="6.1" fill="#000" opacity="0.3104" filter="url(#b2_6)"/>
<rect x="233.2" y="1019.1" width="36.0" height="8.2" rx="10.4" ry="4.1" fill="#000" opacity="0.97" filter="url(#b1_5)"/>
<rect x="278.4" y="1019.0" width="34.0" height="7.6" rx="9.7" ry="3.8" fill="#000" opacity="0.15" filter="url(#b2_6)"/>
<rect x="279.9" y="1021.0" width="31.0" height="3.6" rx="8.0" ry="1.8" fill="#000" opacity="0.5" filter="url(#b1_5)"/>
<rect x="323.7" y="1020.0" width="33.0" height="7.2" rx="9.4" ry="3.6" fill="#000" opacity="0.126" filter="url(#b2_6)"/>
<rect x="325.2" y="1022.0" width="30.0" height="3.2" rx="7.6" ry="1.6" fill="#000" opacity="0.42" filter="url(#b1_5)"/>
</g>
<rect x="183.1" y="1000.6" width="177.8" height="42.0" fill="none" stroke="#0a0a0a" stroke-width="2.4"/>
<clipPath id="c11"><rect x="183.1" y="1048.2" width="177.8" height="42.1"/></clipPath>
<g clip-path="url(#c11)">
<rect x="183.1" y="1048.2" width="177.8" height="42.1" fill="#f1f4f4"/>
<rect x="189.3" y="1065.1" width="35.0" height="8.2" rx="10.1" ry="4.1" fill="#000" opacity="0.27" filter="url(#b2_6)"/>
<rect x="190.8" y="1067.1" width="32.0" height="4.2" rx="8.4" ry="2.1" fill="#000" opacity="0.9" filter="url(#b1_5)"/>
<rect x="231.6" y="1064.8" width="40.0" height="11.2" rx="12.1" ry="5.6" fill="#000" opacity="0.3072" filter="url(#b2_6)"/>
<rect x="233.1" y="1066.8" width="37.0" height="7.2" rx="10.3" ry="3.6" fill="#000" opacity="0.96" filter="url(#b1_5)"/>
<rect x="279.5" y="1066.8" width="32.0" height="7.2" rx="9.2" ry="3.6" fill="#000" opacity="0.165" filter="url(#b2_6)"/>
<rect x="281.0" y="1068.8" width="29.0" height="3.2" rx="7.4" ry="1.6" fill="#000" opacity="0.55" filter="url(#b1_5)"/>
<rect x="324.2" y="1065.9" width="34.0" height="7.8" rx="9.8" ry="3.9" fill="#000" opacity="0.24599999999999997" filter="url(#b2_6)"/>
<rect x="325.7" y="1067.9" width="31.0" height="3.8" rx="8.0" ry="1.9" fill="#000" opacity="0.82" filter="url(#b1_5)"/>
</g>
<rect x="183.1" y="1048.2" width="177.8" height="42.1" fill="none" stroke="#0a0a0a" stroke-width="2.4"/>
<clipPath id="c12"><rect x="183.1" y="1096.9" width="177.8" height="42.5"/></clipPath>
<g clip-path="url(#c12)">
<rect x="183.1" y="1096.9" width="177.8" height="42.5" fill="#cdd3d2"/>
<rect x="181.1" y="1097.9" width="180.0" height="14.0" rx="5.0" ry="5.0" fill="#fff" opacity="0.45" filter="url(#b5)"/>
<rect x="184.1" y="1113.0" width="174.0" height="10.0" rx="5.0" ry="5.0" fill="#000" opacity="0.35" filter="url(#b3_2)"/>
<rect x="189.6" y="1112.4" width="42.0" height="10.4" rx="12.3" ry="5.2" fill="#000" opacity="0.388" filter="url(#b2_6)"/>
<rect x="191.1" y="1114.4" width="39.0" height="6.4" rx="10.5" ry="3.2" fill="#000" opacity="0.97" filter="url(#b1_5)"/>
<rect x="235.9" y="1112.4" width="39.0" height="10.4" rx="11.6" ry="5.2" fill="#000" opacity="0.388" filter="url(#b2_6)"/>
<rect x="237.4" y="1114.4" width="36.0" height="6.4" rx="9.9" ry="3.2" fill="#000" opacity="0.97" filter="url(#b1_5)"/>
<rect x="278.4" y="1112.4" width="37.0" height="10.4" rx="11.2" ry="5.2" fill="#000" opacity="0.388" filter="url(#b2_6)"/>
<rect x="279.9" y="1114.4" width="34.0" height="6.4" rx="9.4" ry="3.2" fill="#000" opacity="0.97" filter="url(#b1_5)"/>
<rect x="319.9" y="1112.4" width="38.0" height="10.4" rx="11.4" ry="5.2" fill="#000" opacity="0.388" filter="url(#b2_6)"/>
<rect x="321.4" y="1114.4" width="35.0" height="6.4" rx="9.6" ry="3.2" fill="#000" opacity="0.97" filter="url(#b1_5)"/>
</g>
<rect x="183.1" y="1096.9" width="177.8" height="42.5" fill="none" stroke="#0a0a0a" stroke-width="2.4"/>
<clipPath id="c13"><rect x="452.0" y="952.9" width="177.4" height="41.9"/></clipPath>
<g clip-path="url(#c13)">
<rect x="452.0" y="952.9" width="177.4" height="41.9" fill="#c0c6c5"/>
<rect x="450.0" y="978.9" width="180.0" height="16.0" rx="5.0" ry="5.0" fill="#fff" opacity="0.4" filter="url(#b5)"/>
<rect x="492.0" y="957.9" width="140.0" height="18.0" rx="5.0" ry="5.0" fill="#000" opacity="0.12" filter="url(#b5)"/>
<rect x="472.0" y="970.8" width="21.0" height="7.5" rx="6.8" ry="3.8" fill="#000" opacity="0.036" filter="url(#b2_6)"/>
<rect x="473.5" y="972.8" width="18.0" height="3.5" rx="5.0" ry="1.8" fill="#000" opacity="0.12" filter="url(#b1_5)"/>
<rect x="498.9" y="969.3" width="36.0" height="9.4" rx="10.7" ry="4.7" fill="#000" opacity="0.32000000000000006" filter="url(#b2_6)"/>
<rect x="500.4" y="971.3" width="33.0" height="5.4" rx="8.9" ry="2.7" fill="#000" opacity="0.8" filter="url(#b1_5)"/>
<rect x="541.3" y="969.9" width="36.0" height="9.0" rx="10.6" ry="4.5" fill="#000" opacity="0.264" filter="url(#b2_6)"/>
<rect x="542.8" y="971.9" width="33.0" height="5.0" rx="8.8" ry="2.5" fill="#000" opacity="0.66" filter="url(#b1_5)"/>
<rect x="587.5" y="970.2" width="38.0" height="8.4" rx="10.9" ry="4.2" fill="#000" opacity="0.2" filter="url(#b2_6)"/>
<rect x="589.0" y="972.2" width="35.0" height="4.4" rx="9.1" ry="2.2" fill="#000" opacity="0.5" filter="url(#b1_5)"/>
</g>
<rect x="452.0" y="952.9" width="177.4" height="41.9" fill="none" stroke="#0a0a0a" stroke-width="2.4"/>
<clipPath id="c14"><rect x="452.0" y="1000.6" width="177.4" height="42.0"/></clipPath>
<g clip-path="url(#c14)">
<rect x="452.0" y="1000.6" width="177.4" height="42.0" fill="#e1e6e5"/>
<rect x="450.0" y="1032.6" width="180.0" height="10.0" rx="5.0" ry="5.0" fill="#000" opacity="0.12" filter="url(#b4)"/>
<rect x="456.5" y="1028.5" width="34.0" height="8.0" rx="9.9" ry="4.0" fill="#000" opacity="0.36" filter="url(#b2_8)"/>
<rect x="498.4" y="1029.0" width="38.0" height="8.0" rx="10.8" ry="4.0" fill="#000" opacity="0.5" filter="url(#b2_8)"/>
<rect x="454.5" y="1016.2" width="38.0" height="13.6" rx="12.3" ry="6.8" fill="#000" opacity="0.3104" filter="url(#b2_6)"/>
<rect x="456.0" y="1018.2" width="35.0" height="9.6" rx="10.5" ry="4.8" fill="#000" opacity="0.97" filter="url(#b1_5)"/>
<rect x="496.9" y="1014.8" width="41.0" height="16.5" rx="13.8" ry="8.2" fill="#000" opacity="0.3136" filter="url(#b2_6)"/>
<rect x="498.4" y="1016.8" width="38.0" height="12.5" rx="12.0" ry="6.2" fill="#000" opacity="0.98" filter="url(#b1_5)"/>
<rect x="545.1" y="1017.5" width="35.0" height="7.4" rx="9.9" ry="3.7" fill="#000" opacity="0.15" filter="url(#b2_6)"/>
<rect x="546.6" y="1019.5" width="32.0" height="3.4" rx="8.1" ry="1.7" fill="#000" opacity="0.5" filter="url(#b1_5)"/>
<rect x="590.5" y="1016.9" width="34.0" height="7.0" rx="9.6" ry="3.5" fill="#000" opacity="0.10200000000000001" filter="url(#b2_6)"/>
<rect x="592.0" y="1018.9" width="31.0" height="3.0" rx="7.8" ry="1.5" fill="#000" opacity="0.34" filter="url(#b1_5)"/>
<rect x="547.6" y="1027.0" width="30.0" height="4.0" rx="7.9" ry="2.0" fill="#000" opacity="0.1" filter="url(#b2_8)"/>
</g>
<rect x="452.0" y="1000.6" width="177.4" height="42.0" fill="none" stroke="#0a0a0a" stroke-width="2.4"/>
<clipPath id="c15"><rect x="452.0" y="1048.2" width="177.4" height="42.1"/></clipPath>
<g clip-path="url(#c15)">
<rect x="452.0" y="1048.2" width="177.4" height="42.1" fill="#f3f5f5"/>
<rect x="456.5" y="1063.4" width="35.0" height="11.6" rx="11.1" ry="5.8" fill="#000" opacity="0.28800000000000003" filter="url(#b2_6)"/>
<rect x="458.0" y="1065.4" width="32.0" height="7.6" rx="9.3" ry="3.8" fill="#000" opacity="0.9" filter="url(#b1_5)"/>
<rect x="497.3" y="1061.7" width="42.0" height="15.8" rx="13.8" ry="7.9" fill="#000" opacity="0.3136" filter="url(#b2_6)"/>
<rect x="498.8" y="1063.7" width="39.0" height="11.8" rx="12.0" ry="5.9" fill="#000" opacity="0.98" filter="url(#b1_5)"/>
<rect x="546.5" y="1065.8" width="34.0" height="7.6" rx="9.7" ry="3.8" fill="#000" opacity="0.15" filter="url(#b2_6)"/>
<rect x="548.0" y="1067.8" width="31.0" height="3.6" rx="8.0" ry="1.8" fill="#000" opacity="0.5" filter="url(#b1_5)"/>
<rect x="591.4" y="1064.9" width="34.0" height="8.6" rx="10.0" ry="4.3" fill="#000" opacity="0.198" filter="url(#b2_6)"/>
<rect x="592.9" y="1066.9" width="31.0" height="4.6" rx="8.2" ry="2.3" fill="#000" opacity="0.66" filter="url(#b1_5)"/>
</g>
<rect x="452.0" y="1048.2" width="177.4" height="42.1" fill="none" stroke="#0a0a0a" stroke-width="2.4"/>
<clipPath id="c16"><rect x="452.0" y="1096.9" width="177.4" height="42.5"/></clipPath>
<g clip-path="url(#c16)">
<rect x="452.0" y="1096.9" width="177.4" height="42.5" fill="#c9cfce"/>
<rect x="450.0" y="1097.9" width="180.0" height="14.0" rx="5.0" ry="5.0" fill="#fff" opacity="0.35" filter="url(#b5)"/>
<rect x="452.0" y="1113.6" width="176.0" height="10.0" rx="5.0" ry="5.0" fill="#000" opacity="0.75" filter="url(#b2_6)"/>
<rect x="453.4" y="1112.9" width="43.0" height="10.8" rx="12.6" ry="5.4" fill="#000" opacity="0.388" filter="url(#b2_6)"/>
<rect x="454.9" y="1114.9" width="40.0" height="6.8" rx="10.9" ry="3.4" fill="#000" opacity="0.97" filter="url(#b1_5)"/>
<rect x="497.3" y="1112.9" width="43.0" height="10.8" rx="12.6" ry="5.4" fill="#000" opacity="0.388" filter="url(#b2_6)"/>
<rect x="498.8" y="1114.9" width="40.0" height="6.8" rx="10.9" ry="3.4" fill="#000" opacity="0.97" filter="url(#b1_5)"/>
<rect x="542.1" y="1112.9" width="41.0" height="10.8" rx="12.2" ry="5.4" fill="#000" opacity="0.388" filter="url(#b2_6)"/>
<rect x="543.6" y="1114.9" width="38.0" height="6.8" rx="10.4" ry="3.4" fill="#000" opacity="0.97" filter="url(#b1_5)"/>
<rect x="583.1" y="1112.9" width="43.0" height="10.8" rx="12.6" ry="5.4" fill="#000" opacity="0.388" filter="url(#b2_6)"/>
<rect x="584.6" y="1114.9" width="40.0" height="6.8" rx="10.9" ry="3.4" fill="#000" opacity="0.97" filter="url(#b1_5)"/>
</g>
<rect x="452.0" y="1096.9" width="177.4" height="42.5" fill="none" stroke="#0a0a0a" stroke-width="2.4"/>
<line x1="173.6" y1="1194.4" x2="173.6" y2="1413.2" stroke="#111" stroke-width="2.3"/>
<line x1="162.1" y1="1412.1" x2="375.0" y2="1412.1" stroke="#111" stroke-width="2.3"/>
<line x1="162.1" y1="1412.1" x2="173.6" y2="1412.1" stroke="#111" stroke-width="2.3"/>
<text x="157.1" y="1420.6" font-size="23.7" text-anchor="end">0.0</text>
<line x1="162.1" y1="1358.0" x2="173.6" y2="1358.0" stroke="#111" stroke-width="2.3"/>
<text x="157.1" y="1366.5" font-size="23.7" text-anchor="end">1.0</text>
<line x1="162.1" y1="1303.8" x2="173.6" y2="1303.8" stroke="#111" stroke-width="2.3"/>
<text x="157.1" y="1312.3" font-size="23.7" text-anchor="end">2.0</text>
<line x1="162.1" y1="1249.7" x2="173.6" y2="1249.7" stroke="#111" stroke-width="2.3"/>
<text x="157.1" y="1258.2" font-size="23.7" text-anchor="end">3.0</text>
<line x1="162.1" y1="1195.6" x2="173.6" y2="1195.6" stroke="#111" stroke-width="2.3"/>
<text x="157.1" y="1204.1" font-size="23.7" text-anchor="end">4.0</text>
<line x1="206.1" y1="1412.1" x2="206.1" y2="1423.6" stroke="#111" stroke-width="2.3"/>
<line x1="253.3" y1="1412.1" x2="253.3" y2="1423.6" stroke="#111" stroke-width="2.3"/>
<line x1="299.5" y1="1412.1" x2="299.5" y2="1423.6" stroke="#111" stroke-width="2.3"/>
<line x1="346.7" y1="1412.1" x2="346.7" y2="1423.6" stroke="#111" stroke-width="2.3"/>
<text transform="translate(71.7 1297.0) rotate(-90)" font-size="24" text-anchor="middle">Relative expression level</text>
<text transform="translate(100.6 1297.0) rotate(-90)" font-size="24" text-anchor="middle">of miR-485-3p</text>
<line x1="187.9" y1="1358.0" x2="224.3" y2="1358.0" stroke="#c6dad6" stroke-width="2.1"/>
<circle cx="191.5" cy="1358.0" r="5.2" fill="#c6dad6"/>
<circle cx="206.1" cy="1358.0" r="5.2" fill="#c6dad6"/>
<circle cx="220.7" cy="1358.0" r="5.2" fill="#c6dad6"/>
<line x1="235.1" y1="1389.1" x2="271.5" y2="1389.1" stroke="#7db6e1" stroke-width="2.1"/>
<rect x="233.6" y="1384.8" width="10.3" height="10.3" fill="#7db6e1" rx="1"/>
<rect x="248.2" y="1382.8" width="10.3" height="10.3" fill="#7db6e1" rx="1"/>
<rect x="262.8" y="1384.8" width="10.3" height="10.3" fill="#7db6e1" rx="1"/>
<line x1="299.5" y1="1257.3" x2="299.5" y2="1304.4" stroke="#f3b95a" stroke-width="2.1"/>
<line x1="295.1" y1="1257.3" x2="303.9" y2="1257.3" stroke="#f3b95a" stroke-width="2.1"/>
<line x1="295.1" y1="1304.4" x2="303.9" y2="1304.4" stroke="#f3b95a" stroke-width="2.1"/>
<line x1="281.3" y1="1281.1" x2="317.7" y2="1281.1" stroke="#f3b95a" stroke-width="2.1"/>
<path d="M284.9 1289.3 L290.3 1299.6 L279.5 1299.6 Z" fill="#f3b95a"/>
<path d="M299.5 1248.7 L304.9 1259.0 L294.1 1259.0 Z" fill="#f3b95a"/>
<path d="M314.1 1287.1 L319.5 1297.4 L308.7 1297.4 Z" fill="#f3b95a"/>
<line x1="346.7" y1="1237.8" x2="346.7" y2="1286.0" stroke="#e8643c" stroke-width="2.1"/>
<line x1="342.3" y1="1237.8" x2="351.1" y2="1237.8" stroke="#e8643c" stroke-width="2.1"/>
<line x1="342.3" y1="1286.0" x2="351.1" y2="1286.0" stroke="#e8643c" stroke-width="2.1"/>
<line x1="328.5" y1="1262.2" x2="364.9" y2="1262.2" stroke="#e8643c" stroke-width="2.1"/>
<path d="M332.1 1282.2 L337.5 1271.9 L326.7 1271.9 Z" fill="#e8643c"/>
<path d="M346.7 1241.6 L352.1 1231.3 L341.3 1231.3 Z" fill="#e8643c"/>
<path d="M361.3 1280.8 L366.7 1270.5 L355.9 1270.5 Z" fill="#e8643c"/>
<line x1="206.7" y1="1343.7" x2="253.6" y2="1343.7" stroke="#111" stroke-width="2.2"/>
<text x="230.2" y="1346.7" font-size="23.7" text-anchor="middle">***</text>
<line x1="253.9" y1="1247.1" x2="299.8" y2="1247.1" stroke="#111" stroke-width="2.2"/>
<text x="276.9" y="1248.6" font-size="23.7" text-anchor="middle">*</text>
<line x1="253.9" y1="1217.9" x2="347.0" y2="1217.9" stroke="#111" stroke-width="2.2"/>
<text x="300.4" y="1219.4" font-size="23.7" text-anchor="middle">*</text>
<text x="206.1" y="1463.8" font-size="24" text-anchor="middle">+</text>
<text x="253.3" y="1463.8" font-size="24" text-anchor="middle">+</text>
<text x="299.5" y="1463.8" font-size="24" text-anchor="middle">-</text>
<text x="346.7" y="1463.8" font-size="24" text-anchor="middle">-</text>
<text x="206.1" y="1492.9" font-size="24" text-anchor="middle">-</text>
<text x="253.3" y="1492.9" font-size="24" text-anchor="middle">-</text>
<text x="299.5" y="1492.9" font-size="24" text-anchor="middle">+</text>
<text x="346.7" y="1492.9" font-size="24" text-anchor="middle">-</text>
<text x="206.1" y="1522.0" font-size="24" text-anchor="middle">-</text>
<text x="253.3" y="1522.0" font-size="24" text-anchor="middle">-</text>
<text x="299.5" y="1522.0" font-size="24" text-anchor="middle">-</text>
<text x="346.7" y="1522.0" font-size="24" text-anchor="middle">+</text>
<text x="206.1" y="1551.1" font-size="24" text-anchor="middle">-</text>
<text x="253.3" y="1551.1" font-size="24" text-anchor="middle">+</text>
<text x="299.5" y="1551.1" font-size="24" text-anchor="middle">+</text>
<text x="346.7" y="1551.1" font-size="24" text-anchor="middle">+</text>
<line x1="443.6" y1="1194.4" x2="443.6" y2="1413.2" stroke="#111" stroke-width="2.3"/>
<line x1="432.1" y1="1412.1" x2="643.9" y2="1412.1" stroke="#111" stroke-width="2.3"/>
<line x1="432.1" y1="1412.1" x2="443.6" y2="1412.1" stroke="#111" stroke-width="2.3"/>
<text x="427.1" y="1420.6" font-size="23.7" text-anchor="end">0.0</text>
<line x1="432.1" y1="1358.0" x2="443.6" y2="1358.0" stroke="#111" stroke-width="2.3"/>
<text x="427.1" y="1366.5" font-size="23.7" text-anchor="end">1.0</text>
<line x1="432.1" y1="1303.8" x2="443.6" y2="1303.8" stroke="#111" stroke-width="2.3"/>
<text x="427.1" y="1312.3" font-size="23.7" text-anchor="end">2.0</text>
<line x1="432.1" y1="1249.7" x2="443.6" y2="1249.7" stroke="#111" stroke-width="2.3"/>
<text x="427.1" y="1258.2" font-size="23.7" text-anchor="end">3.0</text>
<line x1="432.1" y1="1195.6" x2="443.6" y2="1195.6" stroke="#111" stroke-width="2.3"/>
<text x="427.1" y="1204.1" font-size="23.7" text-anchor="end">4.0</text>
<line x1="475.8" y1="1412.1" x2="475.8" y2="1423.6" stroke="#111" stroke-width="2.3"/>
<line x1="522.6" y1="1412.1" x2="522.6" y2="1423.6" stroke="#111" stroke-width="2.3"/>
<line x1="569.7" y1="1412.1" x2="569.7" y2="1423.6" stroke="#111" stroke-width="2.3"/>
<line x1="616.5" y1="1412.1" x2="616.5" y2="1423.6" stroke="#111" stroke-width="2.3"/>
<line x1="457.6" y1="1358.0" x2="494.0" y2="1358.0" stroke="#c6dad6" stroke-width="2.1"/>
<circle cx="461.2" cy="1358.0" r="5.2" fill="#c6dad6"/>
<circle cx="475.8" cy="1358.0" r="5.2" fill="#c6dad6"/>
<circle cx="490.4" cy="1358.0" r="5.2" fill="#c6dad6"/>
<line x1="504.4" y1="1393.9" x2="540.8" y2="1393.9" stroke="#7db6e1" stroke-width="2.1"/>
<rect x="502.9" y="1390.0" width="10.3" height="10.3" fill="#7db6e1" rx="1"/>
<rect x="517.5" y="1387.6" width="10.3" height="10.3" fill="#7db6e1" rx="1"/>
<rect x="532.1" y="1388.5" width="10.3" height="10.3" fill="#7db6e1" rx="1"/>
<line x1="569.7" y1="1281.7" x2="569.7" y2="1293.0" stroke="#f3b95a" stroke-width="2.1"/>
<line x1="565.3" y1="1281.7" x2="574.1" y2="1281.7" stroke="#f3b95a" stroke-width="2.1"/>
<line x1="565.3" y1="1293.0" x2="574.1" y2="1293.0" stroke="#f3b95a" stroke-width="2.1"/>
<line x1="551.5" y1="1288.2" x2="587.9" y2="1288.2" stroke="#f3b95a" stroke-width="2.1"/>
<path d="M555.1 1287.9 L560.5 1298.2 L549.7 1298.2 Z" fill="#f3b95a"/>
<path d="M569.7 1277.7 L575.1 1288.0 L564.3 1288.0 Z" fill="#f3b95a"/>
<path d="M584.3 1280.1 L589.7 1290.4 L578.9 1290.4 Z" fill="#f3b95a"/>
<line x1="598.3" y1="1271.4" x2="634.7" y2="1271.4" stroke="#e8643c" stroke-width="2.1"/>
<path d="M616.5 1273.0 L621.9 1262.7 L611.1 1262.7 Z" fill="#e8643c"/>
<path d="M631.1 1272.4 L636.5 1262.1 L625.7 1262.1 Z" fill="#e8643c"/>
<path d="M616.5 1284.9 L621.9 1274.6 L611.1 1274.6 Z" fill="#e8643c"/>
<line x1="476.4" y1="1341.0" x2="522.9" y2="1341.0" stroke="#111" stroke-width="2.2"/>
<text x="499.6" y="1344.0" font-size="23.7" text-anchor="middle">***</text>
<line x1="523.2" y1="1273.8" x2="570.0" y2="1273.8" stroke="#111" stroke-width="2.2"/>
<text x="546.6" y="1276.8" font-size="23.7" text-anchor="middle">***</text>
<line x1="523.2" y1="1239.1" x2="616.8" y2="1239.1" stroke="#111" stroke-width="2.2"/>
<text x="570.0" y="1242.1" font-size="23.7" text-anchor="middle">***</text>
<text x="475.8" y="1463.8" font-size="24" text-anchor="middle">+</text>
<text x="522.6" y="1463.8" font-size="24" text-anchor="middle">+</text>
<text x="569.7" y="1463.8" font-size="24" text-anchor="middle">-</text>
<text x="616.5" y="1463.8" font-size="24" text-anchor="middle">-</text>
<text x="475.8" y="1492.9" font-size="24" text-anchor="middle">-</text>
<text x="522.6" y="1492.9" font-size="24" text-anchor="middle">-</text>
<text x="569.7" y="1492.9" font-size="24" text-anchor="middle">+</text>
<text x="616.5" y="1492.9" font-size="24" text-anchor="middle">-</text>
<text x="475.8" y="1522.0" font-size="24" text-anchor="middle">-</text>
<text x="522.6" y="1522.0" font-size="24" text-anchor="middle">-</text>
<text x="569.7" y="1522.0" font-size="24" text-anchor="middle">-</text>
<text x="616.5" y="1522.0" font-size="24" text-anchor="middle">+</text>
<text x="475.8" y="1551.1" font-size="24" text-anchor="middle">-</text>
<text x="522.6" y="1551.1" font-size="24" text-anchor="middle">+</text>
<text x="569.7" y="1551.1" font-size="24" text-anchor="middle">+</text>
<text x="616.5" y="1551.1" font-size="24" text-anchor="middle">+</text>
<text x="159.7" y="1463.5" font-size="24" text-anchor="end">Scramble</text>
<text x="159.7" y="1492.7" font-size="24" text-anchor="end">shDNMT3B-#1</text>
<text x="159.7" y="1521.4" font-size="24" text-anchor="end">shDNMT3B-#2</text>
<text x="159.7" y="1550.4" font-size="24" text-anchor="end">Hypoxia</text>
<text x="703.1" y="798.4" font-size="32.5" font-weight="bold">D</text>
<text x="1003.3" y="804.8" font-size="24" text-anchor="middle">MIA PaCa-2</text>
<text x="1286.2" y="804.8" font-size="24" text-anchor="middle">PANC-1</text>
<line x1="889.0" y1="814.0" x2="1129.5" y2="814.0" stroke="#111" stroke-width="2.4"/>
<line x1="1160.5" y1="814.0" x2="1412.5" y2="814.0" stroke="#111" stroke-width="2.4"/>
<text x="862.2" y="844.0" font-size="24" text-anchor="end">Scramble</text>
<text x="862.2" y="873.2" font-size="24" text-anchor="end">shDNMT3B-#1</text>
<text x="862.2" y="902.4" font-size="24" text-anchor="end">shDNMT3B-#2</text>
<text x="862.2" y="931.7" font-size="24" text-anchor="end">NC</text>
<text x="862.2" y="960.9" font-size="24" text-anchor="end">Inh-485-3p</text>
<text x="862.2" y="990.1" font-size="24" text-anchor="end">Hypoxia</text>
<text x="897.5" y="838.5" font-size="24" text-anchor="middle">+</text>
<text x="942.5" y="838.5" font-size="24" text-anchor="middle">-</text>
<text x="987.5" y="838.5" font-size="24" text-anchor="middle">-</text>
<text x="1032.5" y="838.5" font-size="24" text-anchor="middle">+</text>
<text x="1077.5" y="838.5" font-size="24" text-anchor="middle">-</text>
<text x="1122.5" y="838.5" font-size="24" text-anchor="middle">-</text>
<text x="897.5" y="867.7" font-size="24" text-anchor="middle">-</text>
<text x="942.5" y="867.7" font-size="24" text-anchor="middle">+</text>
<text x="987.5" y="867.7" font-size="24" text-anchor="middle">-</text>
<text x="1032.5" y="867.7" font-size="24" text-anchor="middle">-</text>
<text x="1077.5" y="867.7" font-size="24" text-anchor="middle">+</text>
<text x="1122.5" y="867.7" font-size="24" text-anchor="middle">-</text>
<text x="897.5" y="896.9" font-size="24" text-anchor="middle">-</text>
<text x="942.5" y="896.9" font-size="24" text-anchor="middle">-</text>
<text x="987.5" y="896.9" font-size="24" text-anchor="middle">+</text>
<text x="1032.5" y="896.9" font-size="24" text-anchor="middle">-</text>
<text x="1077.5" y="896.9" font-size="24" text-anchor="middle">-</text>
<text x="1122.5" y="896.9" font-size="24" text-anchor="middle">+</text>
<text x="897.5" y="926.2" font-size="24" text-anchor="middle">+</text>
<text x="942.5" y="926.2" font-size="24" text-anchor="middle">+</text>
<text x="987.5" y="926.2" font-size="24" text-anchor="middle">+</text>
<text x="1032.5" y="926.2" font-size="24" text-anchor="middle">-</text>
<text x="1077.5" y="926.2" font-size="24" text-anchor="middle">-</text>
<text x="1122.5" y="926.2" font-size="24" text-anchor="middle">-</text>
<text x="897.5" y="955.4" font-size="24" text-anchor="middle">-</text>
<text x="942.5" y="955.4" font-size="24" text-anchor="middle">-</text>
<text x="987.5" y="955.4" font-size="24" text-anchor="middle">-</text>
<text x="1032.5" y="955.4" font-size="24" text-anchor="middle">+</text>
<text x="1077.5" y="955.4" font-size="24" text-anchor="middle">+</text>
<text x="1122.5" y="955.4" font-size="24" text-anchor="middle">+</text>
<text x="897.5" y="984.6" font-size="24" text-anchor="middle">+</text>
<text x="942.5" y="984.6" font-size="24" text-anchor="middle">+</text>
<text x="987.5" y="984.6" font-size="24" text-anchor="middle">+</text>
<text x="1032.5" y="984.6" font-size="24" text-anchor="middle">+</text>
<text x="1077.5" y="984.6" font-size="24" text-anchor="middle">+</text>
<text x="1122.5" y="984.6" font-size="24" text-anchor="middle">+</text>
<text x="1172.3" y="838.5" font-size="24" text-anchor="middle">+</text>
<text x="1217.4" y="838.5" font-size="24" text-anchor="middle">-</text>
<text x="1262.5" y="838.5" font-size="24" text-anchor="middle">-</text>
<text x="1307.6" y="838.5" font-size="24" text-anchor="middle">+</text>
<text x="1352.7" y="838.5" font-size="24" text-anchor="middle">-</text>
<text x="1397.8" y="838.5" font-size="24" text-anchor="middle">-</text>
<text x="1172.3" y="867.7" font-size="24" text-anchor="middle">-</text>
<text x="1217.4" y="867.7" font-size="24" text-anchor="middle">+</text>
<text x="1262.5" y="867.7" font-size="24" text-anchor="middle">-</text>
<text x="1307.6" y="867.7" font-size="24" text-anchor="middle">-</text>
<text x="1352.7" y="867.7" font-size="24" text-anchor="middle">+</text>
<text x="1397.8" y="867.7" font-size="24" text-anchor="middle">-</text>
<text x="1172.3" y="896.9" font-size="24" text-anchor="middle">-</text>
<text x="1217.4" y="896.9" font-size="24" text-anchor="middle">-</text>
<text x="1262.5" y="896.9" font-size="24" text-anchor="middle">+</text>
<text x="1307.6" y="896.9" font-size="24" text-anchor="middle">-</text>
<text x="1352.7" y="896.9" font-size="24" text-anchor="middle">-</text>
<text x="1397.8" y="896.9" font-size="24" text-anchor="middle">+</text>
<text x="1172.3" y="926.2" font-size="24" text-anchor="middle">+</text>
<text x="1217.4" y="926.2" font-size="24" text-anchor="middle">+</text>
<text x="1262.5" y="926.2" font-size="24" text-anchor="middle">+</text>
<text x="1307.6" y="926.2" font-size="24" text-anchor="middle">-</text>
<text x="1352.7" y="926.2" font-size="24" text-anchor="middle">-</text>
<text x="1397.8" y="926.2" font-size="24" text-anchor="middle">-</text>
<text x="1172.3" y="955.4" font-size="24" text-anchor="middle">-</text>
<text x="1217.4" y="955.4" font-size="24" text-anchor="middle">-</text>
<text x="1262.5" y="955.4" font-size="24" text-anchor="middle">-</text>
<text x="1307.6" y="955.4" font-size="24" text-anchor="middle">+</text>
<text x="1352.7" y="955.4" font-size="24" text-anchor="middle">+</text>
<text x="1397.8" y="955.4" font-size="24" text-anchor="middle">+</text>
<text x="1172.3" y="984.6" font-size="24" text-anchor="middle">+</text>
<text x="1217.4" y="984.6" font-size="24" text-anchor="middle">+</text>
<text x="1262.5" y="984.6" font-size="24" text-anchor="middle">+</text>
<text x="1307.6" y="984.6" font-size="24" text-anchor="middle">+</text>
<text x="1352.7" y="984.6" font-size="24" text-anchor="middle">+</text>
<text x="1397.8" y="984.6" font-size="24" text-anchor="middle">+</text>
<text x="862.2" y="1029.0" font-size="24" text-anchor="end">DNMT3B</text>
<text x="862.2" y="1077.5" font-size="24" text-anchor="end">SLC7A11</text>
<text x="862.2" y="1125.5" font-size="24" text-anchor="end">β-actin</text>
<text x="1425.3" y="1027.3" font-size="18">97 KDa</text>
<text x="1425.3" y="1074.6" font-size="18">55 KDa</text>
<text x="1425.3" y="1123.0" font-size="18">42 KDa</text>
<clipPath id="c17"><rect x="876.3" y="1000.4" width="268.3" height="42.1"/></clipPath>
<g clip-path="url(#c17)">
<rect x="876.3" y="1000.4" width="268.3" height="42.1" fill="#c5cbca"/>
<rect x="870.3" y="996.4" width="280.0" height="14.0" rx="5.0" ry="5.0" fill="#000" opacity="0.28" filter="url(#b4)"/>
<rect x="883.2" y="1029.5" width="32.0" height="9.0" rx="9.7" ry="4.5" fill="#000" opacity="0.2512" filter="url(#b3_2)"/>
<rect x="881.7" y="1016.2" width="35.0" height="14.1" rx="11.8" ry="7.0" fill="#000" opacity="0.384" filter="url(#b2_6)"/>
<rect x="883.2" y="1018.5" width="32.0" height="9.6" rx="9.8" ry="4.8" fill="#000" opacity="0.96" filter="url(#b1_6)"/>
<rect x="930.5" y="1029.5" width="28.0" height="9.0" rx="8.8" ry="4.5" fill="#000" opacity="0.20720000000000002" filter="url(#b3_2)"/>
<rect x="929.0" y="1018.2" width="31.0" height="10.1" rx="9.8" ry="5.0" fill="#000" opacity="0.30400000000000005" filter="url(#b2_6)"/>
<rect x="930.5" y="1020.5" width="28.0" height="5.6" rx="7.8" ry="2.8" fill="#000" opacity="0.76" filter="url(#b1_6)"/>
<rect x="975.8" y="1029.5" width="26.0" height="9.0" rx="8.3" ry="4.5" fill="#000" opacity="0.21600000000000003" filter="url(#b3_2)"/>
<rect x="974.3" y="1018.1" width="29.0" height="10.3" rx="9.4" ry="5.2" fill="#000" opacity="0.32000000000000006" filter="url(#b2_6)"/>
<rect x="975.8" y="1020.4" width="26.0" height="5.8" rx="7.4" ry="2.9" fill="#000" opacity="0.8" filter="url(#b1_6)"/>
<rect x="1015.2" y="1029.5" width="34.0" height="9.0" rx="10.1" ry="4.5" fill="#000" opacity="0.2512" filter="url(#b3_2)"/>
<rect x="1013.7" y="1016.2" width="37.0" height="14.1" rx="12.2" ry="7.0" fill="#000" opacity="0.384" filter="url(#b2_6)"/>
<rect x="1015.2" y="1018.5" width="34.0" height="9.6" rx="10.3" ry="4.8" fill="#000" opacity="0.96" filter="url(#b1_6)"/>
<rect x="1065.4" y="1029.5" width="28.0" height="9.0" rx="8.8" ry="4.5" fill="#000" opacity="0.1632" filter="url(#b3_2)"/>
<rect x="1063.9" y="1018.6" width="31.0" height="9.3" rx="9.5" ry="4.7" fill="#000" opacity="0.22400000000000003" filter="url(#b2_6)"/>
<rect x="1065.4" y="1020.9" width="28.0" height="4.8" rx="7.6" ry="2.4" fill="#000" opacity="0.56" filter="url(#b1_6)"/>
<rect x="1109.7" y="1029.5" width="28.0" height="9.0" rx="8.8" ry="4.5" fill="#000" opacity="0.15" filter="url(#b3_2)"/>
<rect x="1108.2" y="1018.8" width="31.0" height="9.1" rx="9.5" ry="4.5" fill="#000" opacity="0.2" filter="url(#b2_6)"/>
<rect x="1109.7" y="1021.0" width="28.0" height="4.6" rx="7.6" ry="2.3" fill="#000" opacity="0.5" filter="url(#b1_6)"/>
</g>
<rect x="876.3" y="1000.4" width="268.3" height="42.1" fill="none" stroke="#0a0a0a" stroke-width="2.4"/>
<clipPath id="c18"><rect x="1151.3" y="1000.4" width="268.3" height="42.1"/></clipPath>
<g clip-path="url(#c18)">
<rect x="1151.3" y="1000.4" width="268.3" height="42.1" fill="#cfd5d4"/>
<rect x="1145.3" y="997.4" width="280.0" height="12.0" rx="5.0" ry="5.0" fill="#000" opacity="0.15" filter="url(#b4)"/>
<rect x="1158.3" y="1030.0" width="29.0" height="9.0" rx="9.0" ry="4.5" fill="#000" opacity="0.2424" filter="url(#b3_2)"/>
<rect x="1156.8" y="1016.8" width="32.0" height="13.1" rx="10.8" ry="6.5" fill="#000" opacity="0.41400000000000003" filter="url(#b2_6)"/>
<rect x="1158.3" y="1019.0" width="29.0" height="8.6" rx="8.9" ry="4.3" fill="#000" opacity="0.92" filter="url(#b1_6)"/>
<rect x="1202.6" y="1030.0" width="29.0" height="9.0" rx="9.0" ry="4.5" fill="#000" opacity="0.18960000000000002" filter="url(#b3_2)"/>
<rect x="1201.1" y="1018.1" width="32.0" height="10.3" rx="10.0" ry="5.2" fill="#000" opacity="0.30600000000000005" filter="url(#b2_6)"/>
<rect x="1202.6" y="1020.4" width="29.0" height="5.8" rx="8.1" ry="2.9" fill="#000" opacity="0.68" filter="url(#b1_6)"/>
<rect x="1248.0" y="1030.0" width="27.0" height="9.0" rx="8.6" ry="4.5" fill="#000" opacity="0.1984" filter="url(#b3_2)"/>
<rect x="1246.5" y="1018.0" width="30.0" height="10.5" rx="9.6" ry="5.2" fill="#000" opacity="0.324" filter="url(#b2_6)"/>
<rect x="1248.0" y="1020.3" width="27.0" height="6.0" rx="7.7" ry="3.0" fill="#000" opacity="0.72" filter="url(#b1_6)"/>
<rect x="1291.2" y="1030.0" width="32.0" height="9.0" rx="9.7" ry="4.5" fill="#000" opacity="0.2248" filter="url(#b3_2)"/>
<rect x="1289.7" y="1017.2" width="35.0" height="12.1" rx="11.2" ry="6.0" fill="#000" opacity="0.378" filter="url(#b2_6)"/>
<rect x="1291.2" y="1019.5" width="32.0" height="7.6" rx="9.3" ry="3.8" fill="#000" opacity="0.84" filter="url(#b1_6)"/>
<rect x="1339.5" y="1030.0" width="27.0" height="9.0" rx="8.6" ry="4.5" fill="#000" opacity="0.1632" filter="url(#b3_2)"/>
<rect x="1338.0" y="1020.0" width="30.0" height="9.7" rx="9.4" ry="4.8" fill="#000" opacity="0.25200000000000006" filter="url(#b2_6)"/>
<rect x="1339.5" y="1022.3" width="27.0" height="5.2" rx="7.5" ry="2.6" fill="#000" opacity="0.56" filter="url(#b1_6)"/>
<rect x="1383.8" y="1030.0" width="27.0" height="9.0" rx="8.6" ry="4.5" fill="#000" opacity="0.15" filter="url(#b3_2)"/>
<rect x="1382.3" y="1020.0" width="30.0" height="9.7" rx="9.4" ry="4.8" fill="#000" opacity="0.225" filter="url(#b2_6)"/>
<rect x="1383.8" y="1022.3" width="27.0" height="5.2" rx="7.5" ry="2.6" fill="#000" opacity="0.5" filter="url(#b1_6)"/>
</g>
<rect x="1151.3" y="1000.4" width="268.3" height="42.1" fill="none" stroke="#0a0a0a" stroke-width="2.4"/>
<clipPath id="c19"><rect x="876.3" y="1048.5" width="268.3" height="42.1"/></clipPath>
<g clip-path="url(#c19)">
<rect x="876.3" y="1048.5" width="268.3" height="42.1" fill="#cbd1d0"/>
<rect x="870.3" y="1045.5" width="280.0" height="12.0" rx="5.0" ry="5.0" fill="#000" opacity="0.25" filter="url(#b4)"/>
<rect x="878.9" y="1064.4" width="34.0" height="14.1" rx="11.5" ry="7.0" fill="#000" opacity="0.33949999999999997" filter="url(#b2_6)"/>
<rect x="880.4" y="1066.6" width="31.0" height="9.6" rx="9.6" ry="4.8" fill="#000" opacity="0.97" filter="url(#b1_6)"/>
<rect x="921.8" y="1061.2" width="35.0" height="7.9" rx="10.0" ry="4.0" fill="#000" opacity="0.119" filter="url(#b2_6)"/>
<rect x="923.3" y="1063.5" width="32.0" height="3.4" rx="8.1" ry="1.7" fill="#000" opacity="0.34" filter="url(#b1_6)"/>
<rect x="968.9" y="1062.0" width="38.0" height="7.7" rx="10.7" ry="3.9" fill="#000" opacity="0.105" filter="url(#b2_6)"/>
<rect x="970.4" y="1064.2" width="35.0" height="3.2" rx="8.8" ry="1.6" fill="#000" opacity="0.3" filter="url(#b1_6)"/>
<rect x="1013.7" y="1062.5" width="37.0" height="16.1" rx="12.8" ry="8.1" fill="#000" opacity="0.34299999999999997" filter="url(#b2_6)"/>
<rect x="1015.2" y="1064.8" width="34.0" height="11.6" rx="10.8" ry="5.8" fill="#000" opacity="0.98" filter="url(#b1_6)"/>
<rect x="1057.1" y="1065.0" width="40.0" height="12.3" rx="12.4" ry="6.2" fill="#000" opacity="0.33949999999999997" filter="url(#b2_6)"/>
<rect x="1058.6" y="1067.3" width="37.0" height="7.8" rx="10.5" ry="3.9" fill="#000" opacity="0.97" filter="url(#b1_6)"/>
<rect x="1104.3" y="1065.0" width="38.0" height="12.1" rx="11.9" ry="6.0" fill="#000" opacity="0.33949999999999997" filter="url(#b2_6)"/>
<rect x="1105.8" y="1067.2" width="35.0" height="7.6" rx="10.0" ry="3.8" fill="#000" opacity="0.97" filter="url(#b1_6)"/>
</g>
<rect x="876.3" y="1048.5" width="268.3" height="42.1" fill="none" stroke="#0a0a0a" stroke-width="2.4"/>
<clipPath id="c20"><rect x="1151.3" y="1048.5" width="268.3" height="42.1"/></clipPath>
<g clip-path="url(#c20)">
<rect x="1151.3" y="1048.5" width="268.3" height="42.1" fill="#e5e9e9"/>
<rect x="1145.3" y="1046.5" width="280.0" height="8.0" rx="5.0" ry="4.0" fill="#000" opacity="0.12" filter="url(#b4)"/>
<rect x="1157.7" y="1064.5" width="33.0" height="12.3" rx="10.8" ry="6.2" fill="#000" opacity="0.405" filter="url(#b2_6)"/>
<rect x="1159.2" y="1066.8" width="30.0" height="7.8" rx="8.9" ry="3.9" fill="#000" opacity="0.9" filter="url(#b1_6)"/>
<rect x="1204.0" y="1065.2" width="30.0" height="11.1" rx="9.8" ry="5.5" fill="#000" opacity="0.29700000000000004" filter="url(#b2_6)"/>
<rect x="1205.5" y="1067.4" width="27.0" height="6.6" rx="7.9" ry="3.3" fill="#000" opacity="0.66" filter="url(#b1_6)"/>
<rect x="1248.4" y="1065.2" width="29.0" height="11.1" rx="9.6" ry="5.5" fill="#000" opacity="0.315" filter="url(#b2_6)"/>
<rect x="1249.9" y="1067.4" width="26.0" height="6.6" rx="7.7" ry="3.3" fill="#000" opacity="0.7" filter="url(#b1_6)"/>
<rect x="1290.8" y="1062.9" width="33.0" height="15.7" rx="11.7" ry="7.8" fill="#000" opacity="0.4365" filter="url(#b2_6)"/>
<rect x="1292.3" y="1065.1" width="30.0" height="11.2" rx="9.8" ry="5.6" fill="#000" opacity="0.97" filter="url(#b1_6)"/>
<rect x="1336.0" y="1063.5" width="33.0" height="14.3" rx="11.4" ry="7.2" fill="#000" opacity="0.432" filter="url(#b2_6)"/>
<rect x="1337.5" y="1065.8" width="30.0" height="9.8" rx="9.4" ry="4.9" fill="#000" opacity="0.96" filter="url(#b1_6)"/>
<rect x="1381.3" y="1064.0" width="34.0" height="13.3" rx="11.3" ry="6.7" fill="#000" opacity="0.423" filter="url(#b2_6)"/>
<rect x="1382.8" y="1066.3" width="31.0" height="8.8" rx="9.4" ry="4.4" fill="#000" opacity="0.94" filter="url(#b1_6)"/>
</g>
<rect x="1151.3" y="1048.5" width="268.3" height="42.1" fill="none" stroke="#0a0a0a" stroke-width="2.4"/>
<clipPath id="c21"><rect x="876.3" y="1097.2" width="268.3" height="42.3"/></clipPath>
<g clip-path="url(#c21)">
<rect x="876.3" y="1097.2" width="268.3" height="42.3" fill="#eaeeee"/>
<rect x="870.3" y="1094.2" width="280.0" height="10.0" rx="5.0" ry="5.0" fill="#000" opacity="0.14" filter="url(#b4)"/>
<rect x="881.8" y="1117.2" width="32.0" height="11.1" rx="10.3" ry="5.5" fill="#000" opacity="0.41400000000000003" filter="url(#b2_6)"/>
<rect x="883.3" y="1119.4" width="29.0" height="6.6" rx="8.3" ry="3.3" fill="#000" opacity="0.92" filter="url(#b1_6)"/>
<rect x="930.0" y="1117.2" width="30.0" height="11.1" rx="9.8" ry="5.5" fill="#000" opacity="0.41400000000000003" filter="url(#b2_6)"/>
<rect x="931.5" y="1119.4" width="27.0" height="6.6" rx="7.9" ry="3.3" fill="#000" opacity="0.92" filter="url(#b1_6)"/>
<rect x="975.3" y="1117.2" width="29.0" height="11.1" rx="9.6" ry="5.5" fill="#000" opacity="0.41400000000000003" filter="url(#b2_6)"/>
<rect x="976.8" y="1119.4" width="26.0" height="6.6" rx="7.7" ry="3.3" fill="#000" opacity="0.92" filter="url(#b1_6)"/>
<rect x="1018.6" y="1117.2" width="31.0" height="11.1" rx="10.0" ry="5.5" fill="#000" opacity="0.41400000000000003" filter="url(#b2_6)"/>
<rect x="1020.1" y="1119.4" width="28.0" height="6.6" rx="8.1" ry="3.3" fill="#000" opacity="0.92" filter="url(#b1_6)"/>
<rect x="1064.0" y="1117.2" width="30.0" height="11.1" rx="9.8" ry="5.5" fill="#000" opacity="0.41400000000000003" filter="url(#b2_6)"/>
<rect x="1065.5" y="1119.4" width="27.0" height="6.6" rx="7.9" ry="3.3" fill="#000" opacity="0.92" filter="url(#b1_6)"/>
<rect x="1109.2" y="1117.2" width="30.0" height="11.1" rx="9.8" ry="5.5" fill="#000" opacity="0.41400000000000003" filter="url(#b2_6)"/>
<rect x="1110.7" y="1119.4" width="27.0" height="6.6" rx="7.9" ry="3.3" fill="#000" opacity="0.92" filter="url(#b1_6)"/>
</g>
<rect x="876.3" y="1097.2" width="268.3" height="42.3" fill="none" stroke="#0a0a0a" stroke-width="2.4"/>
<clipPath id="c22"><rect x="1151.3" y="1097.2" width="268.3" height="42.3"/></clipPath>
<g clip-path="url(#c22)">
<rect x="1151.3" y="1097.2" width="268.3" height="42.3" fill="#eef1f1"/>
<rect x="1145.3" y="1095.2" width="280.0" height="8.0" rx="5.0" ry="4.0" fill="#000" opacity="0.08" filter="url(#b4)"/>
<rect x="1156.8" y="1114.4" width="32.0" height="11.1" rx="10.3" ry="5.5" fill="#000" opacity="0.376" filter="url(#b2_6)"/>
<rect x="1158.3" y="1116.6" width="29.0" height="6.6" rx="8.3" ry="3.3" fill="#000" opacity="0.94" filter="url(#b1_6)"/>
<rect x="1199.3" y="1113.5" width="32.0" height="12.1" rx="10.5" ry="6.0" fill="#000" opacity="0.38" filter="url(#b2_6)"/>
<rect x="1200.8" y="1115.8" width="29.0" height="7.6" rx="8.6" ry="3.8" fill="#000" opacity="0.95" filter="url(#b1_6)"/>
<rect x="1243.6" y="1113.9" width="32.0" height="11.3" rx="10.3" ry="5.7" fill="#000" opacity="0.376" filter="url(#b2_6)"/>
<rect x="1245.1" y="1116.2" width="29.0" height="6.8" rx="8.4" ry="3.4" fill="#000" opacity="0.94" filter="url(#b1_6)"/>
<rect x="1288.0" y="1114.8" width="32.0" height="9.7" rx="9.9" ry="4.8" fill="#000" opacity="0.36800000000000005" filter="url(#b2_6)"/>
<rect x="1289.5" y="1117.0" width="29.0" height="5.2" rx="8.0" ry="2.6" fill="#000" opacity="0.92" filter="url(#b1_6)"/>
<rect x="1330.3" y="1113.2" width="36.0" height="10.7" rx="11.0" ry="5.3" fill="#000" opacity="0.38" filter="url(#b2_6)"/>
<rect x="1331.8" y="1115.5" width="33.0" height="6.2" rx="9.1" ry="3.1" fill="#000" opacity="0.95" filter="url(#b1_6)"/>
<rect x="1374.5" y="1114.8" width="39.0" height="8.1" rx="11.0" ry="4.0" fill="#000" opacity="0.34" filter="url(#b2_6)"/>
<rect x="1376.0" y="1117.0" width="36.0" height="3.6" rx="9.1" ry="1.8" fill="#000" opacity="0.85" filter="url(#b1_6)"/>
</g>
<rect x="1151.3" y="1097.2" width="268.3" height="42.3" fill="none" stroke="#0a0a0a" stroke-width="2.4"/>
<text x="704.6" y="1211.2" font-size="32.5" font-weight="bold">E</text>
<rect x="749.8" y="1217.8" width="189.5" height="28.8" fill="#c0ccc9" rx="3.5"/>
<text x="752.0" y="1238.6" font-size="24">1. Predicted TSS</text>
<rect x="751.5" y="1329.7" width="715.4" height="12.3" fill="#a6b2e8"/>
<text x="748.2" y="1341.8" font-size="24" text-anchor="end">chr14:</text>
<rect x="768.2" y="1329.7" width="7.6" height="12.3" fill="url(#tssg)"/>
<path d="M771.4 1329.7 L771.4 1285.8 L813.6 1285.8" fill="none" stroke="#3b4748" stroke-width="2.2"/>
<path d="M824.8 1285.8 L812.6 1279.5 L812.6 1292.0 Z" fill="#3b4748"/>
<text x="832.6" y="1294.7" font-size="24">TSS3: 100826118</text>
<rect x="1127.8" y="1329.7" width="8.0" height="12.3" fill="url(#tssg)"/>
<path d="M1131.6 1329.7 L1131.6 1286.5 L1173.2 1286.5" fill="none" stroke="#3b4748" stroke-width="2.2"/>
<path d="M1184.9 1286.5 L1172.2 1280.2 L1172.2 1292.8 Z" fill="#3b4748"/>
<text x="1067.2" y="1278.4" font-size="24">TSS2: 101005875</text>
<rect x="1225.2" y="1329.7" width="8.0" height="12.3" fill="url(#tssg)"/>
<path d="M1228.4 1329.7 L1228.4 1286.5 L1270.4 1286.5" fill="none" stroke="#3b4748" stroke-width="2.2"/>
<path d="M1282.0 1286.5 L1269.4 1280.2 L1269.4 1292.8 Z" fill="#3b4748"/>
<text x="1287.6" y="1291.6" font-size="24">TSS1: 101054306</text>
<rect x="1242.0" y="1308.4" width="194.4" height="54.4" fill="#ee6e50"/>
<rect x="1242.0" y="1329.7" width="194.4" height="12.3" fill="#e05a4f"/>
<rect x="1242.0" y="1308.4" width="194.4" height="54.4" fill="none" stroke="#5f6b6b" stroke-width="2"/>
<text x="1339.8" y="1343.2" font-size="24" text-anchor="middle">hsa-mir-485</text>
<line x1="1237.0" y1="1360.8" x2="1204.6" y2="1380.8" stroke="#6f807c" stroke-width="2" stroke-dasharray="5.5 5"/>
<line x1="1438.5" y1="1361.4" x2="1466.7" y2="1380.8" stroke="#6f807c" stroke-width="2" stroke-dasharray="5.5 5"/>
<text x="1333.4" y="1407.4" font-size="24" text-anchor="middle">101055419-101055491</text>
<rect x="750.0" y="1412.4" width="232.0" height="28.8" fill="#c0ccc9" rx="3.5"/>
<text x="751.3" y="1433.6" font-size="24">2. Predicted promoter</text>
<text x="1075.2" y="1471.0" font-size="24" text-anchor="middle">Promoter</text>
<text x="1076.2" y="1503.2" font-size="24" text-anchor="middle">upstrem 2000bp</text>
<rect x="858.2" y="1512.7" width="530.3" height="11.2" fill="#a6b2e8"/>
<rect x="943.9" y="1512.7" width="273.6" height="11.2" fill="#c4b3d3"/>
<rect x="1217.5" y="1512.7" width="8.3" height="11.2" fill="url(#tssg)"/>
<line x1="943.9" y1="1468.7" x2="943.9" y2="1512.7" stroke="#8fa09c" stroke-width="1.5" stroke-dasharray="4 3.5"/>
<line x1="1217.2" y1="1468.7" x2="1217.2" y2="1512.7" stroke="#8fa09c" stroke-width="1.5" stroke-dasharray="4 3.5"/>
<path d="M1220.6 1512.7 L1220.6 1471.2 L1263.5 1471.2" fill="none" stroke="#3b4748" stroke-width="2.2"/>
<path d="M1274.2 1471.2 L1262.5 1465.5 L1262.5 1477.0 Z" fill="#3b4748"/>
<text x="1280.6" y="1478.9" font-size="24">TSS</text>
<line x1="951.0" y1="1497.7" x2="978.5" y2="1497.7" stroke="#6f7f7c" stroke-width="1.5"/>
<path d="M947.6 1497.7 L954.5 1494 L954.5 1501.4 Z" fill="#6f7f7c"/>
<line x1="1173.0" y1="1497.7" x2="1204.0" y2="1497.7" stroke="#6f7f7c" stroke-width="1.5"/>
<path d="M1207.6 1497.7 L1200.6 1494 L1200.6 1501.4 Z" fill="#6f7f7c"/>
<text x="3.8" y="1634.6" font-size="32.5" font-weight="bold">F</text>
<line x1="56.0" y1="1728.1" x2="623.2" y2="1728.1" stroke="#3b4748" stroke-width="2"/>
<text x="56.0" y="1719.5" font-size="28">PGL3</text>
<rect x="177.7" y="1701.3" width="139.7" height="53.9" fill="#c0b2d8"/>
<text transform="translate(247.4 1734.5) scale(1.16 1)" font-size="22.6" font-weight="bold" text-anchor="middle" style="stroke-width:1.15px" stroke-linejoin="round" letter-spacing="0.7">Promoter</text>
<path d="M357.9 1728.1 L357.9 1664.7 L523 1664.7" fill="none" stroke="#3b4748" stroke-width="2.2"/>
<path d="M541.3 1664.7 L521.8 1653.5 L521.8 1675.9 Z" fill="#3b4748"/>
<text x="359.2" y="1648.4" font-size="28">TSS</text>
<rect x="405.4" y="1700.6" width="141.3" height="55.0" fill="#fff" stroke="#3b4748" stroke-width="2.2"/>
<text x="476.6" y="1735.9" font-size="28" text-anchor="middle">Luciferase</text>
<line x1="242.3" y1="1770.8" x2="242.3" y2="1998.4" stroke="#111" stroke-width="2.4"/>
<line x1="241.1" y1="1997.2" x2="604.9" y2="1997.2" stroke="#111" stroke-width="2.4"/>
<line x1="242.3" y1="1997.2" x2="242.3" y2="2011.7" stroke="#111" stroke-width="2.4"/>
<text x="242.3" y="2037.4" font-size="24" text-anchor="middle">0</text>
<line x1="362.8" y1="1997.2" x2="362.8" y2="2011.7" stroke="#111" stroke-width="2.4"/>
<text x="362.8" y="2037.4" font-size="24" text-anchor="middle">5</text>
<line x1="483.2" y1="1997.2" x2="483.2" y2="2011.7" stroke="#111" stroke-width="2.4"/>
<text x="483.2" y="2037.4" font-size="24" text-anchor="middle">10</text>
<line x1="603.7" y1="1997.2" x2="603.7" y2="2011.7" stroke="#111" stroke-width="2.4"/>
<text x="603.7" y="2037.4" font-size="24" text-anchor="middle">15</text>
<text x="424.7" y="2064.1" font-size="24" text-anchor="middle">Luciferase activity (Fold change)</text>
<line x1="226.3" y1="1830.3" x2="242.3" y2="1830.3" stroke="#111" stroke-width="2.4"/>
<text x="212.7" y="1837.9" font-size="24" text-anchor="end">PGL3</text>
<path d="M243.5 1814.8 L266.0 1814.8 L266.0 1847.5 L243.5 1847.5" fill="none" stroke="#8fa39e" stroke-width="2"/>
<circle cx="266.0" cy="1817.6" r="4.4" fill="#8fa39e"/>
<circle cx="266.0" cy="1831.2" r="4.4" fill="#8fa39e"/>
<circle cx="266.0" cy="1844.8" r="4.4" fill="#8fa39e"/>
<line x1="226.3" y1="1875.6" x2="242.3" y2="1875.6" stroke="#111" stroke-width="2.4"/>
<text x="212.7" y="1883.2" font-size="24" text-anchor="end">Promoter1 (TSS1)</text>
<path d="M243.5 1859.6 L266.3 1859.6 L266.3 1892.4 L243.5 1892.4" fill="none" stroke="#74b3e2" stroke-width="2"/>
<circle cx="266.2" cy="1862.6" r="4.4" fill="#74b3e2"/>
<circle cx="267.4" cy="1876.4" r="4.4" fill="#74b3e2"/>
<circle cx="265.3" cy="1889.4" r="4.4" fill="#74b3e2"/>
<line x1="226.3" y1="1920.4" x2="242.3" y2="1920.4" stroke="#111" stroke-width="2.4"/>
<text x="212.7" y="1928.0" font-size="24" text-anchor="end">Promoter2 (TSS2)</text>
<path d="M243.5 1904.5 L269.6 1904.5 L269.6 1937.7 L243.5 1937.7" fill="none" stroke="#f2e3be" stroke-width="2"/>
<circle cx="270.8" cy="1907.5" r="4.4" fill="#f2e3be"/>
<circle cx="271.6" cy="1921.3" r="4.4" fill="#f2e3be"/>
<circle cx="268.4" cy="1934.6" r="4.4" fill="#f2e3be"/>
<line x1="226.3" y1="1965.7" x2="242.3" y2="1965.7" stroke="#111" stroke-width="2.4"/>
<text x="212.7" y="1973.3" font-size="24" text-anchor="end">Promoter3 (TSS3)</text>
<path d="M243.5 1948.9 L473.5 1948.9 L473.5 1982.9 L243.5 1982.9" fill="none" stroke="#c4b3dc" stroke-width="2"/>
<line x1="460.5" y1="1965.7" x2="489.4" y2="1965.7" stroke="#c4b3dc" stroke-width="2"/>
<line x1="460.5" y1="1958.2" x2="460.5" y2="1973.2" stroke="#c4b3dc" stroke-width="2"/>
<line x1="489.4" y1="1958.2" x2="489.4" y2="1973.2" stroke="#c4b3dc" stroke-width="2"/>
<circle cx="469.2" cy="1951.9" r="4.4" fill="#c4b3dc"/>
<circle cx="490.3" cy="1966.1" r="4.4" fill="#c4b3dc"/>
<circle cx="463.6" cy="1979.5" r="4.4" fill="#c4b3dc"/>
<line x1="290.2" y1="1826.8" x2="290.2" y2="1871.3" stroke="#111" stroke-width="2.2"/>
<text transform="translate(297.6 1851.6) rotate(90)" font-size="24" text-anchor="middle">n.s</text>
<line x1="339.8" y1="1826.8" x2="339.8" y2="1916.1" stroke="#111" stroke-width="2.2"/>
<text transform="translate(347.2 1874.7) rotate(90)" font-size="24" text-anchor="middle">n.s</text>
<line x1="514.4" y1="1826.8" x2="514.4" y2="1965.7" stroke="#111" stroke-width="2.2"/>
<text transform="translate(512.2 1886.8) rotate(90)" font-size="24" text-anchor="middle">***</text>
<text x="703.3" y="1633.6" font-size="32.5" font-weight="bold">G</text>
<path d="M791.9 1630V1779.5M798.5 1630V1779.5M805.1 1630V1779.5M811.7 1630V1779.5M818.3 1630V1779.5M824.9 1630V1779.5M831.5 1630V1779.5M838.1 1630V1779.5M844.7 1630V1779.5M851.3 1630V1779.5M857.9 1630V1779.5M864.5 1630V1779.5M871.1 1630V1779.5M877.7 1630V1779.5M884.3 1630V1779.5M890.9 1630V1779.5M897.5 1630V1779.5M904.1 1630V1779.5M910.7 1630V1779.5M917.3 1630V1779.5M923.9 1630V1779.5M930.5 1630V1779.5M937.1 1630V1779.5M943.7 1630V1779.5M950.3 1630V1779.5M956.9 1630V1779.5M963.5 1630V1779.5M970.1 1630V1779.5M976.7 1630V1779.5M983.3 1630V1779.5M989.9 1630V1779.5M996.5 1630V1779.5M1003.1 1630V1779.5M1009.7 1630V1779.5M1016.3 1630V1779.5M1022.9 1630V1779.5M1029.5 1630V1779.5M1036.1 1630V1779.5M1042.7 1630V1779.5M1049.3 1630V1779.5M1055.9 1630V1779.5M1062.5 1630V1779.5M1069.1 1630V1779.5M1075.7 1630V1779.5M1082.3 1630V1779.5M1088.9 1630V1779.5M1095.5 1630V1779.5M1102.1 1630V1779.5M1108.7 1630V1779.5M1115.3 1630V1779.5M1121.9 1630V1779.5M1128.5 1630V1779.5M1135.1 1630V1779.5M1141.7 1630V1779.5M1148.3 1630V1779.5M1154.9 1630V1779.5M1161.5 1630V1779.5M1168.1 1630V1779.5M1174.7 1630V1779.5M1181.3 1630V1779.5M1187.9 1630V1779.5M1194.5 1630V1779.5M1201.1 1630V1779.5M1207.7 1630V1779.5M1214.3 1630V1779.5M1220.9 1630V1779.5M1227.5 1630V1779.5M1234.1 1630V1779.5M1240.7 1630V1779.5M1247.3 1630V1779.5M1253.9 1630V1779.5M1260.5 1630V1779.5M1267.1 1630V1779.5M1273.7 1630V1779.5M1280.3 1630V1779.5M1286.9 1630V1779.5M1293.5 1630V1779.5M1300.1 1630V1779.5M1306.7 1630V1779.5M1313.3 1630V1779.5M1319.9 1630V1779.5M1326.5 1630V1779.5M1333.1 1630V1779.5M1339.7 1630V1779.5M1346.3 1630V1779.5M1352.9 1630V1779.5M1359.5 1630V1779.5M1366.1 1630V1779.5M1372.7 1630V1779.5M1379.3 1630V1779.5M1385.9 1630V1779.5M1392.5 1630V1779.5M1399.1 1630V1779.5M1405.7 1630V1779.5M1412.3 1630V1779.5M1418.9 1630V1779.5M1425.5 1630V1779.5M1432.1 1630V1779.5M1438.7 1630V1779.5M1445.3 1630V1779.5" fill="none" stroke="#aee9dc" stroke-width="1.0"/>
<path d="M801.8 1737.9 L801.8 1663.1 L801.8 1663.1 L802.9 1661.2 L804.0 1661.3 L805.1 1658.6 L806.2 1660.2 L807.3 1659.9 L808.4 1659.1 L809.5 1660.7 L810.6 1659.4 L811.7 1660.8 L812.8 1659.4 L813.9 1658.7 L815.0 1658.8 L816.1 1659.2 L817.2 1656.3 L818.3 1656.5 L819.4 1657.8 L820.5 1658.7 L821.6 1657.6 L822.7 1657.1 L823.8 1658.8 L824.9 1656.1 L826.0 1659.0 L827.1 1657.7 L828.2 1657.7 L829.3 1658.0 L830.4 1659.1 L831.5 1660.5 L832.6 1658.0 L833.7 1658.7 L834.8 1658.3 L835.9 1658.2 L837.0 1659.4 L838.1 1658.6 L839.2 1659.2 L840.3 1660.3 L841.4 1662.4 L842.5 1662.0 L843.6 1661.0 L844.7 1661.1 L845.8 1660.0 L846.9 1658.9 L848.0 1660.5 L849.1 1660.6 L850.2 1659.7 L851.3 1661.0 L852.4 1661.1 L853.5 1661.8 L854.6 1660.9 L855.7 1659.2 L856.8 1660.9 L857.9 1658.3 L859.0 1659.2 L860.1 1660.3 L861.2 1658.6 L862.3 1659.7 L863.4 1658.4 L864.5 1660.4 L865.6 1660.6 L866.7 1659.9 L867.8 1660.7 L868.9 1658.9 L869.2 1658.9 L869.2 1737.9 Z" fill="#a6f3ee"/>
<path d="M883.9 1737.9 L883.9 1676.1 L884.3 1676.1 L885.4 1676.6 L886.5 1677.7 L887.6 1675.9 L888.7 1677.4 L889.8 1676.6 L890.9 1676.5 L892.0 1676.5 L893.1 1679.8 L894.2 1679.2 L895.3 1680.8 L896.4 1682.5 L897.5 1685.1 L898.6 1683.9 L899.7 1686.1 L900.8 1687.4 L901.9 1687.3 L903.0 1686.0 L904.1 1685.1 L905.2 1682.2 L906.3 1681.5 L907.4 1680.2 L908.5 1680.7 L909.6 1679.8 L910.7 1676.3 L911.8 1675.4 L912.9 1674.6 L914.0 1673.7 L915.1 1673.4 L916.2 1672.8 L917.3 1671.1 L918.4 1670.5 L919.5 1671.8 L920.6 1671.7 L921.7 1672.4 L922.8 1673.7 L923.9 1672.4 L924.0 1672.4 L924.0 1737.9 Z" fill="#a6f3ee"/>
<path d="M951.9 1737.9 L951.9 1679.2 L952.5 1678.2 L953.6 1678.8 L954.7 1679.4 L955.8 1679.5 L956.9 1678.9 L958.0 1681.2 L959.1 1681.8 L960.2 1680.7 L961.3 1681.5 L962.4 1681.0 L963.5 1681.8 L964.6 1682.8 L965.7 1681.2 L966.8 1681.6 L967.9 1678.3 L969.0 1676.5 L970.1 1678.0 L971.2 1675.5 L972.3 1673.3 L973.4 1673.4 L974.5 1670.7 L975.6 1671.1 L976.7 1671.4 L977.8 1671.3 L978.9 1671.3 L980.0 1670.4 L981.1 1671.1 L982.2 1671.0 L983.3 1673.3 L984.4 1673.1 L985.5 1674.3 L986.6 1673.5 L987.7 1673.7 L988.8 1676.0 L989.9 1676.8 L991.0 1676.5 L992.1 1676.5 L993.2 1676.7 L994.3 1676.5 L995.4 1675.1 L996.5 1676.1 L997.6 1676.1 L998.7 1675.8 L999.8 1676.4 L1000.9 1677.8 L1002.0 1678.3 L1003.1 1680.2 L1004.2 1681.7 L1005.3 1680.7 L1006.4 1682.7 L1007.5 1683.4 L1008.6 1683.9 L1009.7 1682.7 L1009.8 1682.7 L1009.8 1737.9 Z" fill="#a6f3ee"/>
<path d="M1127.9 1737.9 L1127.9 1666.2 L1128.5 1666.6 L1129.6 1665.6 L1130.7 1665.3 L1131.8 1662.7 L1132.9 1664.0 L1134.0 1663.5 L1135.1 1661.5 L1136.2 1663.4 L1137.3 1663.3 L1138.4 1661.6 L1139.5 1664.4 L1140.6 1663.4 L1141.7 1664.3 L1142.8 1666.4 L1143.9 1666.6 L1145.0 1665.1 L1146.1 1665.8 L1147.2 1665.9 L1148.3 1665.3 L1149.4 1664.7 L1150.5 1665.0 L1151.6 1666.1 L1152.7 1663.9 L1153.8 1665.4 L1154.9 1665.0 L1156.0 1663.7 L1157.1 1664.5 L1158.2 1665.3 L1159.3 1664.9 L1160.4 1664.0 L1161.5 1667.7 L1162.6 1668.0 L1163.7 1669.4 L1164.8 1667.7 L1165.9 1669.0 L1167.0 1669.2 L1167.8 1672.3 L1167.8 1737.9 Z" fill="#a6f3ee"/>
<path d="M1222.9 1737.9 L1222.9 1672.1 L1223.1 1672.1 L1224.2 1673.8 L1225.3 1672.3 L1226.4 1672.1 L1227.5 1672.8 L1228.6 1671.1 L1229.7 1671.1 L1230.8 1671.4 L1231.9 1672.1 L1233.0 1670.0 L1234.1 1671.3 L1235.2 1670.8 L1236.3 1670.4 L1237.4 1669.6 L1238.5 1669.5 L1239.6 1668.7 L1240.7 1669.0 L1241.8 1668.9 L1242.9 1670.9 L1244.0 1669.6 L1245.1 1669.6 L1246.2 1669.8 L1247.3 1672.5 L1248.4 1673.1 L1249.5 1673.0 L1250.6 1672.3 L1251.7 1672.7 L1252.8 1673.2 L1253.9 1674.1 L1255.0 1673.6 L1256.1 1674.8 L1257.2 1674.5 L1258.3 1676.0 L1259.4 1675.4 L1260.5 1673.5 L1261.6 1672.0 L1262.7 1673.5 L1263.8 1670.9 L1264.9 1670.7 L1266.0 1669.7 L1267.1 1671.0 L1268.2 1671.4 L1269.3 1671.6 L1270.3 1670.8 L1270.3 1737.9 Z" fill="#a6f3ee"/>
<path d="M1301.4 1737.9 L1301.4 1687.0 L1302.3 1687.9 L1303.4 1687.6 L1304.5 1688.4 L1305.6 1688.0 L1306.7 1687.8 L1307.8 1686.4 L1308.9 1686.7 L1310.0 1685.3 L1311.1 1684.6 L1312.2 1682.2 L1313.3 1680.0 L1314.4 1678.7 L1315.5 1677.7 L1316.6 1675.3 L1317.7 1675.7 L1318.8 1673.0 L1319.9 1671.4 L1321.0 1669.5 L1322.1 1667.9 L1323.2 1665.5 L1324.3 1662.2 L1325.4 1664.3 L1326.5 1664.0 L1327.6 1663.1 L1328.7 1663.0 L1329.8 1663.2 L1330.9 1661.2 L1332.0 1663.0 L1333.1 1661.3 L1334.2 1660.5 L1335.3 1660.8 L1336.4 1661.9 L1337.5 1660.4 L1338.6 1662.2 L1339.7 1663.2 L1340.8 1662.0 L1341.9 1661.9 L1343.0 1662.5 L1344.1 1663.4 L1345.2 1663.7 L1346.3 1663.4 L1347.4 1663.6 L1348.5 1662.0 L1349.6 1662.3 L1350.7 1662.8 L1351.8 1664.3 L1352.9 1663.5 L1354.0 1664.8 L1355.1 1663.6 L1356.2 1664.2 L1357.3 1665.3 L1358.4 1667.0 L1359.5 1667.4 L1360.6 1667.1 L1361.7 1665.8 L1362.8 1666.3 L1363.9 1665.9 L1365.0 1665.8 L1366.1 1664.5 L1367.2 1666.7 L1368.3 1664.7 L1369.4 1667.8 L1370.5 1668.5 L1371.6 1666.5 L1372.7 1668.6 L1373.8 1670.5 L1374.9 1671.6 L1376.0 1670.6 L1377.1 1670.6 L1378.2 1671.0 L1379.3 1673.7 L1380.4 1672.1 L1381.5 1673.7 L1382.6 1673.0 L1383.5 1674.7 L1383.5 1737.9 Z" fill="#a6f3ee"/>
<line x1="785.4" y1="1627.4" x2="785.4" y2="1740.9" stroke="#000" stroke-width="1.3"/>
<line x1="785.4" y1="1737.9" x2="791.6" y2="1737.9" stroke="#000" stroke-width="1.2"/>
<line x1="785.4" y1="1726.9" x2="789.2" y2="1726.9" stroke="#000" stroke-width="1.2"/>
<line x1="785.4" y1="1715.9" x2="791.6" y2="1715.9" stroke="#000" stroke-width="1.2"/>
<line x1="785.4" y1="1704.9" x2="789.2" y2="1704.9" stroke="#000" stroke-width="1.2"/>
<line x1="785.4" y1="1693.9" x2="791.6" y2="1693.9" stroke="#000" stroke-width="1.2"/>
<line x1="785.4" y1="1683.0" x2="789.2" y2="1683.0" stroke="#000" stroke-width="1.2"/>
<line x1="785.4" y1="1672.0" x2="791.6" y2="1672.0" stroke="#000" stroke-width="1.2"/>
<line x1="785.4" y1="1661.0" x2="789.2" y2="1661.0" stroke="#000" stroke-width="1.2"/>
<line x1="785.4" y1="1650.0" x2="791.6" y2="1650.0" stroke="#000" stroke-width="1.2"/>
<line x1="785.4" y1="1639.0" x2="789.2" y2="1639.0" stroke="#000" stroke-width="1.2"/>
<line x1="785.4" y1="1628.0" x2="791.6" y2="1628.0" stroke="#000" stroke-width="1.2"/>
<text transform="translate(782.3 1740.4) rotate(-90)" font-size="11" text-anchor="middle" fill="#000" class="m">0</text>
<text transform="translate(782.3 1715.9) rotate(-90)" font-size="11" text-anchor="middle" fill="#000" class="m">20</text>
<text transform="translate(782.3 1693.9) rotate(-90)" font-size="11" text-anchor="middle" fill="#000" class="m">40</text>
<text transform="translate(782.3 1672.0) rotate(-90)" font-size="11" text-anchor="middle" fill="#000" class="m">60</text>
<text transform="translate(782.3 1650.0) rotate(-90)" font-size="11" text-anchor="middle" fill="#000" class="m">80</text>
<text transform="translate(767.2 1679.8) rotate(-90)" font-size="11" text-anchor="middle" fill="#000" class="m">GC Percentage</text>
<rect x="785.4" y="1737.5" width="659.9" height="5.9" fill="#f5141a"/>
<line x1="818.4" y1="1737.8" x2="818.4" y2="1733.6" stroke="#f5141a" stroke-width="1.1"/>
<line x1="851.4" y1="1737.8" x2="851.4" y2="1733.6" stroke="#f5141a" stroke-width="1.1"/>
<line x1="884.4" y1="1737.8" x2="884.4" y2="1733.6" stroke="#f5141a" stroke-width="1.1"/>
<line x1="917.4" y1="1737.8" x2="917.4" y2="1733.6" stroke="#f5141a" stroke-width="1.1"/>
<line x1="950.4" y1="1737.8" x2="950.4" y2="1732.2" stroke="#f5141a" stroke-width="1.1"/>
<line x1="983.4" y1="1737.8" x2="983.4" y2="1733.6" stroke="#f5141a" stroke-width="1.1"/>
<line x1="1016.4" y1="1737.8" x2="1016.4" y2="1733.6" stroke="#f5141a" stroke-width="1.1"/>
<line x1="1049.4" y1="1737.8" x2="1049.4" y2="1733.6" stroke="#f5141a" stroke-width="1.1"/>
<line x1="1082.4" y1="1737.8" x2="1082.4" y2="1733.6" stroke="#f5141a" stroke-width="1.1"/>
<line x1="1115.4" y1="1737.8" x2="1115.4" y2="1732.2" stroke="#f5141a" stroke-width="1.1"/>
<line x1="1148.4" y1="1737.8" x2="1148.4" y2="1733.6" stroke="#f5141a" stroke-width="1.1"/>
<line x1="1181.4" y1="1737.8" x2="1181.4" y2="1733.6" stroke="#f5141a" stroke-width="1.1"/>
<line x1="1214.4" y1="1737.8" x2="1214.4" y2="1733.6" stroke="#f5141a" stroke-width="1.1"/>
<line x1="1247.4" y1="1737.8" x2="1247.4" y2="1733.6" stroke="#f5141a" stroke-width="1.1"/>
<line x1="1280.4" y1="1737.8" x2="1280.4" y2="1732.2" stroke="#f5141a" stroke-width="1.1"/>
<line x1="1313.4" y1="1737.8" x2="1313.4" y2="1733.6" stroke="#f5141a" stroke-width="1.1"/>
<line x1="1346.4" y1="1737.8" x2="1346.4" y2="1733.6" stroke="#f5141a" stroke-width="1.1"/>
<line x1="1379.4" y1="1737.8" x2="1379.4" y2="1733.6" stroke="#f5141a" stroke-width="1.1"/>
<line x1="1412.4" y1="1737.8" x2="1412.4" y2="1733.6" stroke="#f5141a" stroke-width="1.1"/>
<path d="M785.4 1737.7 L801.8 1737.7 L801.8 1663.1 L802.9 1661.2 L804.0 1661.3 L805.1 1658.6 L806.2 1660.2 L807.3 1659.9 L808.4 1659.1 L809.5 1660.7 L810.6 1659.4 L811.7 1660.8 L812.8 1659.4 L813.9 1658.7 L815.0 1658.8 L816.1 1659.2 L817.2 1656.3 L818.3 1656.5 L819.4 1657.8 L820.5 1658.7 L821.6 1657.6 L822.7 1657.1 L823.8 1658.8 L824.9 1656.1 L826.0 1659.0 L827.1 1657.7 L828.2 1657.7 L829.3 1658.0 L830.4 1659.1 L831.5 1660.5 L832.6 1658.0 L833.7 1658.7 L834.8 1658.3 L835.9 1658.2 L837.0 1659.4 L838.1 1658.6 L839.2 1659.2 L840.3 1660.3 L841.4 1662.4 L842.5 1662.0 L843.6 1661.0 L844.7 1661.1 L845.8 1660.0 L846.9 1658.9 L848.0 1660.5 L849.1 1660.6 L850.2 1659.7 L851.3 1661.0 L852.4 1661.1 L853.5 1661.8 L854.6 1660.9 L855.7 1659.2 L856.8 1660.9 L857.9 1658.3 L859.0 1659.2 L860.1 1660.3 L861.2 1658.6 L862.3 1659.7 L863.4 1658.4 L864.5 1660.4 L865.6 1660.6 L866.7 1659.9 L867.8 1660.7 L868.9 1658.9 L870.0 1660.5 L871.1 1661.7 L872.2 1663.1 L873.3 1664.2 L874.4 1666.8 L875.5 1668.9 L876.6 1669.2 L877.7 1671.5 L878.8 1671.5 L879.9 1675.2 L881.0 1676.5 L882.1 1677.8 L883.2 1677.5 L884.3 1676.1 L885.4 1676.6 L886.5 1677.7 L887.6 1675.9 L888.7 1677.4 L889.8 1676.6 L890.9 1676.5 L892.0 1676.5 L893.1 1679.8 L894.2 1679.2 L895.3 1680.8 L896.4 1682.5 L897.5 1685.1 L898.6 1683.9 L899.7 1686.1 L900.8 1687.4 L901.9 1687.3 L903.0 1686.0 L904.1 1685.1 L905.2 1682.2 L906.3 1681.5 L907.4 1680.2 L908.5 1680.7 L909.6 1679.8 L910.7 1676.3 L911.8 1675.4 L912.9 1674.6 L914.0 1673.7 L915.1 1673.4 L916.2 1672.8 L917.3 1671.1 L918.4 1670.5 L919.5 1671.8 L920.6 1671.7 L921.7 1672.4 L922.8 1673.7 L923.9 1672.4 L925.0 1671.1 L926.1 1670.6 L927.2 1670.0 L928.3 1667.3 L929.4 1669.1 L930.5 1669.4 L931.6 1670.4 L932.7 1670.8 L933.8 1670.3 L934.9 1671.1 L936.0 1670.9 L937.1 1673.3 L938.2 1672.3 L939.3 1673.0 L940.4 1674.2 L941.5 1674.8 L942.6 1675.8 L943.7 1675.2 L944.8 1675.4 L945.9 1676.1 L947.0 1676.3 L948.1 1677.4 L949.2 1676.7 L950.3 1679.6 L951.4 1679.2 L952.5 1678.2 L953.6 1678.8 L954.7 1679.4 L955.8 1679.5 L956.9 1678.9 L958.0 1681.2 L959.1 1681.8 L960.2 1680.7 L961.3 1681.5 L962.4 1681.0 L963.5 1681.8 L964.6 1682.8 L965.7 1681.2 L966.8 1681.6 L967.9 1678.3 L969.0 1676.5 L970.1 1678.0 L971.2 1675.5 L972.3 1673.3 L973.4 1673.4 L974.5 1670.7 L975.6 1671.1 L976.7 1671.4 L977.8 1671.3 L978.9 1671.3 L980.0 1670.4 L981.1 1671.1 L982.2 1671.0 L983.3 1673.3 L984.4 1673.1 L985.5 1674.3 L986.6 1673.5 L987.7 1673.7 L988.8 1676.0 L989.9 1676.8 L991.0 1676.5 L992.1 1676.5 L993.2 1676.7 L994.3 1676.5 L995.4 1675.1 L996.5 1676.1 L997.6 1676.1 L998.7 1675.8 L999.8 1676.4 L1000.9 1677.8 L1002.0 1678.3 L1003.1 1680.2 L1004.2 1681.7 L1005.3 1680.7 L1006.4 1682.7 L1007.5 1683.4 L1008.6 1683.9 L1009.7 1682.7 L1010.8 1682.8 L1011.9 1683.4 L1013.0 1683.9 L1014.1 1683.5 L1015.2 1684.5 L1016.3 1684.9 L1017.4 1684.4 L1018.5 1683.0 L1019.6 1682.9 L1020.7 1682.5 L1021.8 1679.5 L1022.9 1680.3 L1024.0 1680.2 L1025.1 1678.9 L1026.2 1678.0 L1027.3 1676.4 L1028.4 1674.8 L1029.5 1676.0 L1030.6 1674.0 L1031.7 1674.7 L1032.8 1674.6 L1033.9 1672.2 L1035.0 1671.9 L1036.1 1673.3 L1037.2 1672.4 L1038.3 1670.5 L1039.4 1670.2 L1040.5 1670.0 L1041.6 1671.6 L1042.7 1670.7 L1043.8 1668.1 L1044.9 1669.5 L1046.0 1669.3 L1047.1 1667.8 L1048.2 1666.5 L1049.3 1667.3 L1050.4 1666.3 L1051.5 1666.2 L1052.6 1669.4 L1053.7 1668.7 L1054.8 1668.5 L1055.9 1670.0 L1057.0 1668.8 L1058.1 1670.3 L1059.2 1670.5 L1060.3 1668.9 L1061.4 1669.3 L1062.5 1669.6 L1063.6 1669.6 L1064.7 1670.8 L1065.8 1670.0 L1066.9 1670.6 L1068.0 1669.8 L1069.1 1672.3 L1070.2 1670.2 L1071.3 1670.1 L1072.4 1670.0 L1073.5 1670.5 L1074.6 1668.6 L1075.7 1670.1 L1076.8 1669.6 L1077.9 1670.4 L1079.0 1671.1 L1080.1 1670.3 L1081.2 1672.3 L1082.3 1672.3 L1083.4 1672.4 L1084.5 1675.3 L1085.6 1674.0 L1086.7 1675.5 L1087.8 1676.8 L1088.9 1676.8 L1090.0 1676.7 L1091.1 1677.7 L1092.2 1678.3 L1093.3 1679.5 L1094.4 1677.9 L1095.5 1679.7 L1096.6 1679.3 L1097.7 1679.8 L1098.8 1681.8 L1099.9 1681.1 L1101.0 1680.7 L1102.1 1680.8 L1103.2 1680.7 L1104.3 1678.7 L1105.4 1678.7 L1106.5 1677.8 L1107.6 1677.3 L1108.7 1677.1 L1109.8 1675.8 L1110.9 1675.3 L1112.0 1674.5 L1113.1 1675.2 L1114.2 1673.9 L1115.3 1673.9 L1116.4 1674.1 L1117.5 1672.0 L1118.6 1672.8 L1119.7 1673.9 L1120.8 1673.5 L1121.9 1671.3 L1123.0 1671.2 L1124.1 1671.6 L1125.2 1669.1 L1126.3 1668.1 L1127.4 1666.2 L1128.5 1666.6 L1129.6 1665.6 L1130.7 1665.3 L1131.8 1662.7 L1132.9 1664.0 L1134.0 1663.5 L1135.1 1661.5 L1136.2 1663.4 L1137.3 1663.3 L1138.4 1661.6 L1139.5 1664.4 L1140.6 1663.4 L1141.7 1664.3 L1142.8 1666.4 L1143.9 1666.6 L1145.0 1665.1 L1146.1 1665.8 L1147.2 1665.9 L1148.3 1665.3 L1149.4 1664.7 L1150.5 1665.0 L1151.6 1666.1 L1152.7 1663.9 L1153.8 1665.4 L1154.9 1665.0 L1156.0 1663.7 L1157.1 1664.5 L1158.2 1665.3 L1159.3 1664.9 L1160.4 1664.0 L1161.5 1667.7 L1162.6 1668.0 L1163.7 1669.4 L1164.8 1667.7 L1165.9 1669.0 L1167.0 1669.2 L1168.1 1672.3 L1169.2 1671.7 L1170.3 1672.1 L1171.4 1673.9 L1172.5 1676.1 L1173.6 1675.9 L1174.7 1674.3 L1175.8 1674.0 L1176.9 1676.4 L1178.0 1675.4 L1179.1 1675.9 L1180.2 1674.5 L1181.3 1675.4 L1182.4 1678.3 L1183.5 1678.5 L1184.6 1678.4 L1185.7 1680.3 L1186.8 1678.5 L1187.9 1678.2 L1189.0 1676.0 L1190.1 1679.3 L1191.2 1677.9 L1192.3 1681.3 L1193.4 1681.0 L1194.5 1681.6 L1195.6 1682.0 L1196.7 1682.6 L1197.8 1680.1 L1198.9 1679.1 L1200.0 1679.7 L1201.1 1678.3 L1202.2 1677.4 L1203.3 1677.7 L1204.4 1677.6 L1205.5 1678.2 L1206.6 1678.7 L1207.7 1678.9 L1208.8 1680.4 L1209.9 1679.0 L1211.0 1678.6 L1212.1 1676.6 L1213.2 1676.2 L1214.3 1674.2 L1215.4 1674.4 L1216.5 1673.4 L1217.6 1675.3 L1218.7 1674.5 L1219.8 1673.2 L1220.9 1673.8 L1222.0 1674.9 L1223.1 1672.1 L1224.2 1673.8 L1225.3 1672.3 L1226.4 1672.1 L1227.5 1672.8 L1228.6 1671.1 L1229.7 1671.1 L1230.8 1671.4 L1231.9 1672.1 L1233.0 1670.0 L1234.1 1671.3 L1235.2 1670.8 L1236.3 1670.4 L1237.4 1669.6 L1238.5 1669.5 L1239.6 1668.7 L1240.7 1669.0 L1241.8 1668.9 L1242.9 1670.9 L1244.0 1669.6 L1245.1 1669.6 L1246.2 1669.8 L1247.3 1672.5 L1248.4 1673.1 L1249.5 1673.0 L1250.6 1672.3 L1251.7 1672.7 L1252.8 1673.2 L1253.9 1674.1 L1255.0 1673.6 L1256.1 1674.8 L1257.2 1674.5 L1258.3 1676.0 L1259.4 1675.4 L1260.5 1673.5 L1261.6 1672.0 L1262.7 1673.5 L1263.8 1670.9 L1264.9 1670.7 L1266.0 1669.7 L1267.1 1671.0 L1268.2 1671.4 L1269.3 1671.6 L1270.4 1670.8 L1271.5 1671.8 L1272.6 1670.6 L1273.7 1671.7 L1274.8 1671.5 L1275.9 1672.8 L1277.0 1672.1 L1278.1 1672.4 L1279.2 1673.6 L1280.3 1673.9 L1281.4 1675.5 L1282.5 1675.9 L1283.6 1677.1 L1284.7 1677.3 L1285.8 1678.1 L1286.9 1679.9 L1288.0 1679.7 L1289.1 1680.9 L1290.2 1684.2 L1291.3 1683.0 L1292.4 1685.7 L1293.5 1686.0 L1294.6 1684.8 L1295.7 1687.7 L1296.8 1688.4 L1297.9 1688.2 L1299.0 1689.0 L1300.1 1689.3 L1301.2 1687.0 L1302.3 1687.9 L1303.4 1687.6 L1304.5 1688.4 L1305.6 1688.0 L1306.7 1687.8 L1307.8 1686.4 L1308.9 1686.7 L1310.0 1685.3 L1311.1 1684.6 L1312.2 1682.2 L1313.3 1680.0 L1314.4 1678.7 L1315.5 1677.7 L1316.6 1675.3 L1317.7 1675.7 L1318.8 1673.0 L1319.9 1671.4 L1321.0 1669.5 L1322.1 1667.9 L1323.2 1665.5 L1324.3 1662.2 L1325.4 1664.3 L1326.5 1664.0 L1327.6 1663.1 L1328.7 1663.0 L1329.8 1663.2 L1330.9 1661.2 L1332.0 1663.0 L1333.1 1661.3 L1334.2 1660.5 L1335.3 1660.8 L1336.4 1661.9 L1337.5 1660.4 L1338.6 1662.2 L1339.7 1663.2 L1340.8 1662.0 L1341.9 1661.9 L1343.0 1662.5 L1344.1 1663.4 L1345.2 1663.7 L1346.3 1663.4 L1347.4 1663.6 L1348.5 1662.0 L1349.6 1662.3 L1350.7 1662.8 L1351.8 1664.3 L1352.9 1663.5 L1354.0 1664.8 L1355.1 1663.6 L1356.2 1664.2 L1357.3 1665.3 L1358.4 1667.0 L1359.5 1667.4 L1360.6 1667.1 L1361.7 1665.8 L1362.8 1666.3 L1363.9 1665.9 L1365.0 1665.8 L1366.1 1664.5 L1367.2 1666.7 L1368.3 1664.7 L1369.4 1667.8 L1370.5 1668.5 L1371.6 1666.5 L1372.7 1668.6 L1373.8 1670.5 L1374.9 1671.6 L1376.0 1670.6 L1377.1 1670.6 L1378.2 1671.0 L1379.3 1673.7 L1380.4 1672.1 L1381.5 1673.7 L1382.6 1673.0 L1383.7 1674.7 L1384.8 1676.5 L1385.9 1674.6 L1387.0 1677.2 L1388.1 1676.8 L1389.2 1678.5 L1390.3 1678.9 L1391.4 1678.4 L1392.5 1681.3 L1393.6 1681.0 L1394.7 1680.5 L1395.8 1681.4 L1396.9 1683.8 L1398.0 1684.8 L1399.1 1685.4 L1400.2 1686.0 L1401.3 1687.7 L1402.4 1687.6 L1403.5 1688.6 L1404.6 1685.6 L1405.7 1687.2 L1406.8 1687.0 L1407.9 1684.3 L1409.0 1686.1 L1410.1 1685.1 L1411.2 1685.3 L1412.3 1683.1 L1413.4 1683.0 L1414.5 1682.7 L1415.6 1684.1 L1416.7 1682.5 L1417.8 1681.3 L1418.9 1680.9 L1420.0 1679.9 L1421.1 1678.7 L1422.2 1678.2 L1423.3 1679.8 L1424.4 1677.5 L1425.5 1678.8 L1427.8 1678.8 L1427.8 1737.7 L1445.3 1737.7" fill="none" stroke="#000" stroke-width="1.25" stroke-linejoin="round"/>
<text x="786.2" y="1756.0" font-size="11" fill="#000" class="m">0</text>
<text x="929.0" y="1756.0" font-size="11" fill="#000" class="m">500 bp</text>
<text x="1093.5" y="1756.0" font-size="11" fill="#000" class="m">1000 bp</text>
<text x="1258.4" y="1756.0" font-size="11" fill="#000" class="m">1500 bp</text>
<text x="762.0" y="1769.0" font-size="11" fill="#000" class="m">CpG</text>
<path d="M786.1 1759.6V1769M793.6 1759.6V1769M796.1 1759.6V1769M807.3 1759.6V1769M814.8 1759.6V1769M817.8 1759.6V1769M819.8 1759.6V1769M821.8 1759.6V1769M824.3 1759.6V1769M829.8 1759.6V1769M836.0 1759.6V1769M837.7 1759.6V1769M841.0 1759.6V1769M847.2 1759.6V1769M851.0 1759.6V1769M854.7 1759.6V1769M858.4 1759.6V1769M862.2 1759.6V1769M865.9 1759.6V1769M870.9 1759.6V1769M880.9 1759.6V1769M895.8 1759.6V1769M900.1 1759.6V1769M903.3 1759.6V1769M911.5 1759.6V1769M914.0 1759.6V1769M920.0 1759.6V1769M929.5 1759.6V1769M951.4 1759.6V1769M959.9 1759.6V1769M966.4 1759.6V1769M968.6 1759.6V1769M975.6 1759.6V1769M981.8 1759.6V1769M986.3 1759.6V1769M990.6 1759.6V1769M992.3 1759.6V1769M997.3 1759.6V1769M1009.3 1759.6V1769M1023.0 1759.6V1769M1032.2 1759.6V1769M1041.7 1759.6V1769M1050.4 1759.6V1769M1052.2 1759.6V1769M1059.1 1759.6V1769M1060.4 1759.6V1769M1079.6 1759.6V1769M1099.0 1759.6V1769M1106.5 1759.6V1769M1109.5 1759.6V1769M1116.2 1759.6V1769M1119.4 1759.6V1769M1124.9 1759.6V1769M1129.4 1759.6V1769M1143.6 1759.6V1769M1145.6 1759.6V1769M1147.9 1759.6V1769M1151.1 1759.6V1769M1153.6 1759.6V1769M1157.8 1759.6V1769M1161.1 1759.6V1769M1163.6 1759.6V1769M1190.3 1759.6V1769M1200.5 1759.6V1769M1224.7 1759.6V1769M1234.6 1759.6V1769M1237.1 1759.6V1769M1243.4 1759.6V1769M1246.6 1759.6V1769M1256.6 1759.6V1769M1258.3 1759.6V1769M1272.0 1759.6V1769M1292.0 1759.6V1769M1308.2 1759.6V1769M1311.4 1759.6V1769M1314.4 1759.6V1769M1316.9 1759.6V1769M1319.9 1759.6V1769M1325.6 1759.6V1769M1328.1 1759.6V1769M1334.4 1759.6V1769M1336.8 1759.6V1769M1340.6 1759.6V1769M1344.3 1759.6V1769M1358.8 1759.6V1769M1361.3 1759.6V1769M1368.0 1759.6V1769M1375.5 1759.6V1769M1381.7 1759.6V1769M1395.4 1759.6V1769M1409.1 1759.6V1769M1417.9 1759.6V1769M1424.1 1759.6V1769M1432.8 1759.6V1769" fill="none" stroke="#f2463f" stroke-width="1.1"/>
<rect x="784.9" y="1781.5" width="660.4" height="39.3" fill="#f3e3e6"/>
<text x="790.6" y="1793.3" font-size="11" fill="#000" class="m">Input Sequence</text>
<rect x="790.4" y="1798.3" width="105.4" height="5.7" fill="#f5141a"/>
<text x="949.4" y="1793.3" font-size="11" fill="#000" class="m">Bisulfite PCR primer</text>
<line x1="960.9" y1="1801.2" x2="1027.0" y2="1801.2" stroke="#3557dd" stroke-width="1.1"/>
<rect x="950.0" y="1798.9" width="10.3" height="4.7" fill="#f5141a" stroke="#3557dd" stroke-width="1.2"/>
<rect x="1027.6" y="1798.9" width="10.3" height="4.7" fill="#f5141a" stroke="#3557dd" stroke-width="1.2"/>
<line x1="1235.0" y1="1775.9" x2="1281.0" y2="1775.9" stroke="#3557dd" stroke-width="1.1"/>
<rect x="1227.6" y="1771.2" width="7.2" height="10.6" fill="#f5141a" stroke="#3557dd" stroke-width="1.3"/>
<rect x="1281.1" y="1771.2" width="7.2" height="10.6" fill="#f5141a" stroke="#3557dd" stroke-width="1.3"/>
<text x="1210.8" y="1781.6" font-size="11" fill="#000" class="m">F1</text>
<text x="1291.3" y="1781.6" font-size="11" fill="#000" class="m">R1</text>
<text x="1223.9" y="1793.3" font-size="11" fill="#000" class="m">MSP Primer Set</text>
<text x="1238.4" y="1804.6" font-size="11" text-anchor="end" fill="#000" class="m">Methylated-Specific</text>
<text x="1238.4" y="1817.5" font-size="11" text-anchor="end" fill="#000" class="m">Unmethylated-Specific</text>
<line x1="1269.0" y1="1801.4" x2="1334.4" y2="1801.4" stroke="#3557dd" stroke-width="1.1"/>
<rect x="1257.6" y="1798.9" width="10.8" height="5.0" fill="#6c3fcb" stroke="#3557dd" stroke-width="1.2"/>
<rect x="1335.0" y="1798.9" width="10.8" height="5.0" fill="#6c3fcb" stroke="#3557dd" stroke-width="1.2"/>
<line x1="1269.0" y1="1814.3" x2="1334.4" y2="1814.3" stroke="#3557dd" stroke-width="1.1"/>
<rect x="1257.6" y="1811.8" width="10.8" height="5.0" fill="#62d44c" stroke="#3557dd" stroke-width="1.2"/>
<rect x="1335.0" y="1811.8" width="10.8" height="5.0" fill="#62d44c" stroke="#3557dd" stroke-width="1.2"/>
<text x="1366.3" y="1793.3" font-size="11" fill="#000" class="m">CpG Island</text>
<rect x="1366.8" y="1798.7" width="67.4" height="18.7" fill="#a6f3ee"/>
<rect x="752.2" y="1617.0" width="709.2" height="213.6" fill="none" stroke="#0a0a0a" stroke-width="2.6"/>
<line x1="1228.0" y1="1781.5" x2="756.0" y2="1889.6" stroke="#6b7b78" stroke-width="2.2" stroke-dasharray="8.5 5"/>
<line x1="1288.7" y1="1781.5" x2="1459.5" y2="1889.6" stroke="#6b7b78" stroke-width="2.2" stroke-dasharray="8.5 5"/>
<rect x="755.2" y="1889.8" width="705.0" height="168.2" fill="#fff" stroke="#a9b9b5" stroke-width="2"/>
<text x="760.7" y="1923.9" font-size="24.28">ACCCAGTGGAAGAGGAAGGGGCATAG<tspan fill="#e8141a" stroke="#e8141a">CG</tspan>GGTTC<tspan fill="#e8141a" stroke="#e8141a">CGCG</tspan>AAC</text>
<text x="760.7" y="1953.2" font-size="24.28">ATGAGTTGTAAG<tspan fill="#e8141a" stroke="#e8141a">CG</tspan>GCAGAGCC<tspan fill="#e8141a" stroke="#e8141a">CG</tspan>GGACTCCACAGCCAGG</text>
<text x="760.7" y="1982.4" font-size="24.28">GTTTTCTGACT<tspan fill="#e8141a" stroke="#e8141a">CG</tspan>GAGA<tspan fill="#e8141a" stroke="#e8141a">CGCG</tspan>GAGCTCTGTCTCCCATGTCA</text>
<text x="760.7" y="2011.7" font-size="24.28">AAGAGAACCAGTCAGAAA<tspan fill="#e8141a" stroke="#e8141a">CG</tspan>CA<tspan fill="#e8141a" stroke="#e8141a">CG</tspan>GGTGGGCTGGGAGGG</text>
<text x="760.7" y="2040.9" font-size="24.28">GGTGACAGCCTCTGGCTTACATCTGGGAAC</text>
<text x="4.2" y="2157.3" font-size="32.5" font-weight="bold">H</text>
<text x="378.8" y="2157.6" font-size="24" text-anchor="middle">MIA PaCa-2</text>
<text x="242.9" y="2191.5" font-size="24" text-anchor="middle">Normoxia</text>
<text x="518.9" y="2191.5" font-size="24" text-anchor="middle">Hypoxia</text>
<line x1="115.1" y1="2199.5" x2="372.6" y2="2199.5" stroke="#111" stroke-width="2.5"/>
<line x1="397.6" y1="2199.5" x2="655.8" y2="2199.5" stroke="#111" stroke-width="2.5"/>
<text x="1.8" y="2228.5" font-size="24">CG Sites</text>
<text x="113.9" y="2228.5" font-size="24" text-anchor="middle">1</text>
<text x="398.0" y="2228.5" font-size="24" text-anchor="middle">1</text>
<text x="141.5" y="2228.5" font-size="24" text-anchor="middle">2</text>
<text x="425.4" y="2228.5" font-size="24" text-anchor="middle">2</text>
<text x="169.3" y="2228.5" font-size="24" text-anchor="middle">3</text>
<text x="453.4" y="2228.5" font-size="24" text-anchor="middle">3</text>
<text x="197.3" y="2228.5" font-size="24" text-anchor="middle">4</text>
<text x="481.2" y="2228.5" font-size="24" text-anchor="middle">4</text>
<text x="225.3" y="2228.5" font-size="24" text-anchor="middle">5</text>
<text x="509.2" y="2228.5" font-size="24" text-anchor="middle">5</text>
<text x="253.4" y="2228.5" font-size="24" text-anchor="middle">6</text>
<text x="537.4" y="2228.5" font-size="24" text-anchor="middle">6</text>
<text x="280.9" y="2228.5" font-size="24" text-anchor="middle">7</text>
<text x="565.2" y="2228.5" font-size="24" text-anchor="middle">7</text>
<text x="309.2" y="2228.5" font-size="24" text-anchor="middle">8</text>
<text x="593.4" y="2228.5" font-size="24" text-anchor="middle">8</text>
<text x="336.9" y="2228.5" font-size="24" text-anchor="middle">9</text>
<text x="621.3" y="2228.5" font-size="24" text-anchor="middle">9</text>
<text x="366.0" y="2228.5" font-size="24" text-anchor="middle">10</text>
<text x="650.4" y="2228.5" font-size="24" text-anchor="middle">10</text>
<circle cx="114.8" cy="2260.7" r="12.7" fill="#fff" stroke="#2e2e2e" stroke-width="1.45"/>
<circle cx="401.4" cy="2260.7" r="13.3" fill="#000"/>
<circle cx="142.8" cy="2260.7" r="13.3" fill="#000"/>
<circle cx="429.4" cy="2260.7" r="13.3" fill="#000"/>
<circle cx="170.7" cy="2260.7" r="12.7" fill="#fff" stroke="#2e2e2e" stroke-width="1.45"/>
<circle cx="457.3" cy="2260.7" r="13.3" fill="#000"/>
<circle cx="198.7" cy="2260.7" r="13.3" fill="#000"/>
<circle cx="485.3" cy="2260.7" r="13.3" fill="#000"/>
<circle cx="226.7" cy="2260.7" r="12.7" fill="#fff" stroke="#2e2e2e" stroke-width="1.45"/>
<circle cx="513.3" cy="2260.7" r="12.7" fill="#fff" stroke="#2e2e2e" stroke-width="1.45"/>
<circle cx="254.6" cy="2260.7" r="12.7" fill="#fff" stroke="#2e2e2e" stroke-width="1.45"/>
<circle cx="541.2" cy="2260.7" r="13.3" fill="#000"/>
<circle cx="282.6" cy="2260.7" r="13.3" fill="#000"/>
<circle cx="569.2" cy="2260.7" r="13.3" fill="#000"/>
<circle cx="310.6" cy="2260.7" r="12.7" fill="#fff" stroke="#2e2e2e" stroke-width="1.45"/>
<circle cx="597.2" cy="2260.7" r="13.3" fill="#000"/>
<circle cx="338.6" cy="2260.7" r="12.7" fill="#fff" stroke="#2e2e2e" stroke-width="1.45"/>
<circle cx="625.2" cy="2260.7" r="12.7" fill="#fff" stroke="#2e2e2e" stroke-width="1.45"/>
<circle cx="366.5" cy="2260.7" r="12.7" fill="#fff" stroke="#2e2e2e" stroke-width="1.45"/>
<circle cx="653.1" cy="2260.7" r="12.7" fill="#fff" stroke="#2e2e2e" stroke-width="1.45"/>
<circle cx="114.8" cy="2290.2" r="13.3" fill="#000"/>
<circle cx="401.4" cy="2290.2" r="13.3" fill="#000"/>
<circle cx="142.8" cy="2290.2" r="12.7" fill="#fff" stroke="#2e2e2e" stroke-width="1.45"/>
<circle cx="429.4" cy="2290.2" r="13.3" fill="#000"/>
<circle cx="170.7" cy="2290.2" r="12.7" fill="#fff" stroke="#2e2e2e" stroke-width="1.45"/>
<circle cx="457.3" cy="2290.2" r="13.3" fill="#000"/>
<circle cx="198.7" cy="2290.2" r="12.7" fill="#fff" stroke="#2e2e2e" stroke-width="1.45"/>
<circle cx="485.3" cy="2290.2" r="13.3" fill="#000"/>
<circle cx="226.7" cy="2290.2" r="13.3" fill="#000"/>
<circle cx="513.3" cy="2290.2" r="13.3" fill="#000"/>
<circle cx="254.6" cy="2290.2" r="12.7" fill="#fff" stroke="#2e2e2e" stroke-width="1.45"/>
<circle cx="541.2" cy="2290.2" r="12.7" fill="#fff" stroke="#2e2e2e" stroke-width="1.45"/>
<circle cx="282.6" cy="2290.2" r="12.7" fill="#fff" stroke="#2e2e2e" stroke-width="1.45"/>
<circle cx="569.2" cy="2290.2" r="13.3" fill="#000"/>
<circle cx="310.6" cy="2290.2" r="13.3" fill="#000"/>
<circle cx="597.2" cy="2290.2" r="13.3" fill="#000"/>
<circle cx="338.6" cy="2290.2" r="12.7" fill="#fff" stroke="#2e2e2e" stroke-width="1.45"/>
<circle cx="625.2" cy="2290.2" r="12.7" fill="#fff" stroke="#2e2e2e" stroke-width="1.45"/>
<circle cx="366.5" cy="2290.2" r="12.7" fill="#fff" stroke="#2e2e2e" stroke-width="1.45"/>
<circle cx="653.1" cy="2290.2" r="12.7" fill="#fff" stroke="#2e2e2e" stroke-width="1.45"/>
<circle cx="114.8" cy="2319.8" r="13.3" fill="#000"/>
<circle cx="401.4" cy="2319.8" r="13.3" fill="#000"/>
<circle cx="142.8" cy="2319.8" r="12.7" fill="#fff" stroke="#2e2e2e" stroke-width="1.45"/>
<circle cx="429.4" cy="2319.8" r="13.3" fill="#000"/>
<circle cx="170.7" cy="2319.8" r="12.7" fill="#fff" stroke="#2e2e2e" stroke-width="1.45"/>
<circle cx="457.3" cy="2319.8" r="13.3" fill="#000"/>
<circle cx="198.7" cy="2319.8" r="12.7" fill="#fff" stroke="#2e2e2e" stroke-width="1.45"/>
<circle cx="485.3" cy="2319.8" r="13.3" fill="#000"/>
<circle cx="226.7" cy="2319.8" r="13.3" fill="#000"/>
<circle cx="513.3" cy="2319.8" r="13.3" fill="#000"/>
<circle cx="254.6" cy="2319.8" r="12.7" fill="#fff" stroke="#2e2e2e" stroke-width="1.45"/>
<circle cx="541.2" cy="2319.8" r="13.3" fill="#000"/>
<circle cx="282.6" cy="2319.8" r="12.7" fill="#fff" stroke="#2e2e2e" stroke-width="1.45"/>
<circle cx="569.2" cy="2319.8" r="13.3" fill="#000"/>
<circle cx="310.6" cy="2319.8" r="13.3" fill="#000"/>
<circle cx="597.2" cy="2319.8" r="13.3" fill="#000"/>
<circle cx="338.6" cy="2319.8" r="12.7" fill="#fff" stroke="#2e2e2e" stroke-width="1.45"/>
<circle cx="625.2" cy="2319.8" r="12.7" fill="#fff" stroke="#2e2e2e" stroke-width="1.45"/>
<circle cx="366.5" cy="2319.8" r="12.7" fill="#fff" stroke="#2e2e2e" stroke-width="1.45"/>
<circle cx="653.1" cy="2319.8" r="13.3" fill="#000"/>
<circle cx="114.8" cy="2349.3" r="12.7" fill="#fff" stroke="#2e2e2e" stroke-width="1.45"/>
<circle cx="401.4" cy="2349.3" r="13.3" fill="#000"/>
<circle cx="142.8" cy="2349.3" r="12.7" fill="#fff" stroke="#2e2e2e" stroke-width="1.45"/>
<circle cx="429.4" cy="2349.3" r="13.3" fill="#000"/>
<circle cx="170.7" cy="2349.3" r="12.7" fill="#fff" stroke="#2e2e2e" stroke-width="1.45"/>
<circle cx="457.3" cy="2349.3" r="13.3" fill="#000"/>
<circle cx="198.7" cy="2349.3" r="13.3" fill="#000"/>
<circle cx="485.3" cy="2349.3" r="12.7" fill="#fff" stroke="#2e2e2e" stroke-width="1.45"/>
<circle cx="226.7" cy="2349.3" r="12.7" fill="#fff" stroke="#2e2e2e" stroke-width="1.45"/>
<circle cx="513.3" cy="2349.3" r="13.3" fill="#000"/>
<circle cx="254.6" cy="2349.3" r="12.7" fill="#fff" stroke="#2e2e2e" stroke-width="1.45"/>
<circle cx="541.2" cy="2349.3" r="13.3" fill="#000"/>
<circle cx="282.6" cy="2349.3" r="13.3" fill="#000"/>
<circle cx="569.2" cy="2349.3" r="13.3" fill="#000"/>
<circle cx="310.6" cy="2349.3" r="12.7" fill="#fff" stroke="#2e2e2e" stroke-width="1.45"/>
<circle cx="597.2" cy="2349.3" r="13.3" fill="#000"/>
<circle cx="338.6" cy="2349.3" r="12.7" fill="#fff" stroke="#2e2e2e" stroke-width="1.45"/>
<circle cx="625.2" cy="2349.3" r="13.3" fill="#000"/>
<circle cx="366.5" cy="2349.3" r="12.7" fill="#fff" stroke="#2e2e2e" stroke-width="1.45"/>
<circle cx="653.1" cy="2349.3" r="13.3" fill="#000"/>
<circle cx="114.8" cy="2378.9" r="12.7" fill="#fff" stroke="#2e2e2e" stroke-width="1.45"/>
<circle cx="401.4" cy="2378.9" r="12.7" fill="#fff" stroke="#2e2e2e" stroke-width="1.45"/>
<circle cx="142.8" cy="2378.9" r="13.3" fill="#000"/>
<circle cx="429.4" cy="2378.9" r="13.3" fill="#000"/>
<circle cx="170.7" cy="2378.9" r="13.3" fill="#000"/>
<circle cx="457.3" cy="2378.9" r="13.3" fill="#000"/>
<circle cx="198.7" cy="2378.9" r="13.3" fill="#000"/>
<circle cx="485.3" cy="2378.9" r="13.3" fill="#000"/>
<circle cx="226.7" cy="2378.9" r="12.7" fill="#fff" stroke="#2e2e2e" stroke-width="1.45"/>
<circle cx="513.3" cy="2378.9" r="13.3" fill="#000"/>
<circle cx="254.6" cy="2378.9" r="12.7" fill="#fff" stroke="#2e2e2e" stroke-width="1.45"/>
<circle cx="541.2" cy="2378.9" r="13.3" fill="#000"/>
<circle cx="282.6" cy="2378.9" r="13.3" fill="#000"/>
<circle cx="569.2" cy="2378.9" r="13.3" fill="#000"/>
<circle cx="310.6" cy="2378.9" r="12.7" fill="#fff" stroke="#2e2e2e" stroke-width="1.45"/>
<circle cx="597.2" cy="2378.9" r="13.3" fill="#000"/>
<circle cx="338.6" cy="2378.9" r="12.7" fill="#fff" stroke="#2e2e2e" stroke-width="1.45"/>
<circle cx="625.2" cy="2378.9" r="13.3" fill="#000"/>
<circle cx="366.5" cy="2378.9" r="12.7" fill="#fff" stroke="#2e2e2e" stroke-width="1.45"/>
<circle cx="653.1" cy="2378.9" r="12.7" fill="#fff" stroke="#2e2e2e" stroke-width="1.45"/>
<circle cx="114.8" cy="2408.4" r="12.7" fill="#fff" stroke="#2e2e2e" stroke-width="1.45"/>
<circle cx="401.4" cy="2408.4" r="13.3" fill="#000"/>
<circle cx="142.8" cy="2408.4" r="13.3" fill="#000"/>
<circle cx="429.4" cy="2408.4" r="13.3" fill="#000"/>
<circle cx="170.7" cy="2408.4" r="12.7" fill="#fff" stroke="#2e2e2e" stroke-width="1.45"/>
<circle cx="457.3" cy="2408.4" r="13.3" fill="#000"/>
<circle cx="198.7" cy="2408.4" r="13.3" fill="#000"/>
<circle cx="485.3" cy="2408.4" r="13.3" fill="#000"/>
<circle cx="226.7" cy="2408.4" r="13.3" fill="#000"/>
<circle cx="513.3" cy="2408.4" r="13.3" fill="#000"/>
<circle cx="254.6" cy="2408.4" r="12.7" fill="#fff" stroke="#2e2e2e" stroke-width="1.45"/>
<circle cx="541.2" cy="2408.4" r="12.7" fill="#fff" stroke="#2e2e2e" stroke-width="1.45"/>
<circle cx="282.6" cy="2408.4" r="12.7" fill="#fff" stroke="#2e2e2e" stroke-width="1.45"/>
<circle cx="569.2" cy="2408.4" r="13.3" fill="#000"/>
<circle cx="310.6" cy="2408.4" r="12.7" fill="#fff" stroke="#2e2e2e" stroke-width="1.45"/>
<circle cx="597.2" cy="2408.4" r="13.3" fill="#000"/>
<circle cx="338.6" cy="2408.4" r="12.7" fill="#fff" stroke="#2e2e2e" stroke-width="1.45"/>
<circle cx="625.2" cy="2408.4" r="12.7" fill="#fff" stroke="#2e2e2e" stroke-width="1.45"/>
<circle cx="366.5" cy="2408.4" r="12.7" fill="#fff" stroke="#2e2e2e" stroke-width="1.45"/>
<circle cx="653.1" cy="2408.4" r="12.7" fill="#fff" stroke="#2e2e2e" stroke-width="1.45"/>
<rect x="828.8" y="2344.4" width="11.9" height="71.9" fill="#85bde3"/>
<rect x="841.6" y="2236.6" width="11.9" height="179.8" fill="#e96c3f"/>
<rect x="867.5" y="2308.4" width="11.9" height="107.9" fill="#85bde3"/>
<rect x="880.3" y="2200.6" width="11.9" height="215.7" fill="#e96c3f"/>
<rect x="906.2" y="2380.4" width="11.9" height="36.0" fill="#85bde3"/>
<rect x="919.0" y="2200.6" width="11.9" height="215.7" fill="#e96c3f"/>
<rect x="944.8" y="2272.5" width="11.9" height="143.8" fill="#85bde3"/>
<rect x="957.6" y="2236.6" width="11.9" height="179.8" fill="#e96c3f"/>
<rect x="983.5" y="2308.4" width="11.9" height="107.9" fill="#85bde3"/>
<rect x="996.3" y="2236.6" width="11.9" height="179.8" fill="#e96c3f"/>
<rect x="1035.0" y="2236.6" width="11.9" height="179.8" fill="#e96c3f"/>
<rect x="1060.9" y="2308.4" width="11.9" height="107.9" fill="#85bde3"/>
<rect x="1073.7" y="2200.6" width="11.9" height="215.7" fill="#e96c3f"/>
<rect x="1099.6" y="2344.4" width="11.9" height="71.9" fill="#85bde3"/>
<rect x="1112.4" y="2200.6" width="11.9" height="215.7" fill="#e96c3f"/>
<rect x="1151.0" y="2344.4" width="11.9" height="71.9" fill="#e96c3f"/>
<rect x="1189.7" y="2344.4" width="11.9" height="71.9" fill="#e96c3f"/>
<line x1="824.0" y1="2199.4" x2="824.0" y2="2417.5" stroke="#111" stroke-width="2.4"/>
<line x1="812.5" y1="2416.3" x2="1206.8" y2="2416.3" stroke="#111" stroke-width="2.4"/>
<line x1="812.5" y1="2416.3" x2="824.0" y2="2416.3" stroke="#111" stroke-width="2.4"/>
<text x="807.5" y="2424.9" font-size="24" text-anchor="end">0.0</text>
<line x1="812.5" y1="2373.2" x2="824.0" y2="2373.2" stroke="#111" stroke-width="2.4"/>
<text x="807.5" y="2381.8" font-size="24" text-anchor="end">0.2</text>
<line x1="812.5" y1="2330.0" x2="824.0" y2="2330.0" stroke="#111" stroke-width="2.4"/>
<text x="807.5" y="2338.6" font-size="24" text-anchor="end">0.4</text>
<line x1="812.5" y1="2286.9" x2="824.0" y2="2286.9" stroke="#111" stroke-width="2.4"/>
<text x="807.5" y="2295.5" font-size="24" text-anchor="end">0.6</text>
<line x1="812.5" y1="2243.7" x2="824.0" y2="2243.7" stroke="#111" stroke-width="2.4"/>
<text x="807.5" y="2252.3" font-size="24" text-anchor="end">0.8</text>
<line x1="812.5" y1="2200.6" x2="824.0" y2="2200.6" stroke="#111" stroke-width="2.4"/>
<text x="807.5" y="2209.2" font-size="24" text-anchor="end">1.0</text>
<line x1="840.7" y1="2416.3" x2="840.7" y2="2427.8" stroke="#111" stroke-width="2.4"/>
<line x1="879.4" y1="2416.3" x2="879.4" y2="2427.8" stroke="#111" stroke-width="2.4"/>
<line x1="918.1" y1="2416.3" x2="918.1" y2="2427.8" stroke="#111" stroke-width="2.4"/>
<line x1="956.7" y1="2416.3" x2="956.7" y2="2427.8" stroke="#111" stroke-width="2.4"/>
<line x1="995.4" y1="2416.3" x2="995.4" y2="2427.8" stroke="#111" stroke-width="2.4"/>
<line x1="1034.1" y1="2416.3" x2="1034.1" y2="2427.8" stroke="#111" stroke-width="2.4"/>
<line x1="1072.8" y1="2416.3" x2="1072.8" y2="2427.8" stroke="#111" stroke-width="2.4"/>
<line x1="1111.5" y1="2416.3" x2="1111.5" y2="2427.8" stroke="#111" stroke-width="2.4"/>
<line x1="1150.1" y1="2416.3" x2="1150.1" y2="2427.8" stroke="#111" stroke-width="2.4"/>
<line x1="1188.8" y1="2416.3" x2="1188.8" y2="2427.8" stroke="#111" stroke-width="2.4"/>
<text x="840.7" y="2454.9" font-size="24" text-anchor="middle">1</text>
<text x="879.4" y="2454.9" font-size="24" text-anchor="middle">2</text>
<text x="918.1" y="2454.9" font-size="24" text-anchor="middle">3</text>
<text x="956.7" y="2454.9" font-size="24" text-anchor="middle">4</text>
<text x="995.4" y="2454.9" font-size="24" text-anchor="middle">5</text>
<text x="1034.1" y="2454.9" font-size="24" text-anchor="middle">6</text>
<text x="1072.8" y="2454.9" font-size="24" text-anchor="middle">7</text>
<text x="1111.5" y="2454.9" font-size="24" text-anchor="middle">8</text>
<text x="1150.1" y="2454.9" font-size="24" text-anchor="middle">9</text>
<text x="1188.8" y="2454.9" font-size="24" text-anchor="middle">10</text>
<text transform="translate(731.8 2305.5) rotate(-90)" font-size="24" text-anchor="middle">Methylation level</text>
<text transform="translate(759.0 2305.5) rotate(-90)" font-size="24" text-anchor="middle">per CG sites</text>
<rect x="883.3" y="2163.7" width="22.9" height="11.9" fill="#85bde3"/>
<text x="919.6" y="2175.7" font-size="17.5">Normal</text>
<rect x="1018.0" y="2163.7" width="23.0" height="11.9" fill="#e96c3f"/>
<text x="1054.3" y="2175.7" font-size="17.5">Hypoxia</text>
<path d="M1355 2419.4 L1355 2353.6 L1378.2 2353.6 L1378.2 2419.4" fill="none" stroke="#85bde3" stroke-width="2.2"/>
<path d="M1405.3 2419.4 L1405.3 2249.8 L1428.9 2249.8 L1428.9 2419.4" fill="none" stroke="#e96c3f" stroke-width="2.2"/>
<line x1="1366.5" y1="2368.1" x2="1366.5" y2="2339.9" stroke="#85bde3" stroke-width="2"/>
<line x1="1360.0" y1="2368.1" x2="1373.0" y2="2368.1" stroke="#85bde3" stroke-width="2"/>
<line x1="1360.0" y1="2339.9" x2="1373.0" y2="2339.9" stroke="#85bde3" stroke-width="2"/>
<line x1="1416.9" y1="2268.9" x2="1416.9" y2="2226.6" stroke="#e96c3f" stroke-width="2"/>
<line x1="1410.4" y1="2268.9" x2="1423.4" y2="2268.9" stroke="#e96c3f" stroke-width="2"/>
<line x1="1410.4" y1="2226.6" x2="1423.4" y2="2226.6" stroke="#e96c3f" stroke-width="2"/>
<circle cx="1362.7" cy="2331.7" r="3.4" fill="#85bde3"/>
<circle cx="1355.0" cy="2353.6" r="3.4" fill="#85bde3"/>
<circle cx="1362.7" cy="2353.6" r="3.4" fill="#85bde3"/>
<circle cx="1369.8" cy="2353.6" r="3.4" fill="#85bde3"/>
<circle cx="1378.2" cy="2353.6" r="3.4" fill="#85bde3"/>
<circle cx="1362.7" cy="2376.2" r="3.4" fill="#85bde3"/>
<circle cx="1408.6" cy="2222.6" r="3.4" fill="#e96c3f"/>
<circle cx="1425.5" cy="2222.6" r="3.4" fill="#e96c3f"/>
<circle cx="1416.9" cy="2244.0" r="3.4" fill="#e96c3f"/>
<circle cx="1408.6" cy="2266.7" r="3.4" fill="#e96c3f"/>
<circle cx="1416.9" cy="2266.7" r="3.4" fill="#e96c3f"/>
<circle cx="1425.5" cy="2266.7" r="3.4" fill="#e96c3f"/>
<line x1="1341.1" y1="2198.3" x2="1341.1" y2="2420.6" stroke="#111" stroke-width="2.4"/>
<line x1="1329.6" y1="2419.4" x2="1441.8" y2="2419.4" stroke="#111" stroke-width="2.4"/>
<line x1="1329.6" y1="2419.4" x2="1341.1" y2="2419.4" stroke="#111" stroke-width="2.4"/>
<text x="1324.6" y="2428.0" font-size="24" text-anchor="end">0</text>
<line x1="1329.6" y1="2375.4" x2="1341.1" y2="2375.4" stroke="#111" stroke-width="2.4"/>
<text x="1324.6" y="2384.0" font-size="24" text-anchor="end">2</text>
<line x1="1329.6" y1="2331.4" x2="1341.1" y2="2331.4" stroke="#111" stroke-width="2.4"/>
<text x="1324.6" y="2340.0" font-size="24" text-anchor="end">4</text>
<line x1="1329.6" y1="2287.5" x2="1341.1" y2="2287.5" stroke="#111" stroke-width="2.4"/>
<text x="1324.6" y="2296.1" font-size="24" text-anchor="end">6</text>
<line x1="1329.6" y1="2243.5" x2="1341.1" y2="2243.5" stroke="#111" stroke-width="2.4"/>
<text x="1324.6" y="2252.1" font-size="24" text-anchor="end">8</text>
<line x1="1329.6" y1="2199.5" x2="1341.1" y2="2199.5" stroke="#111" stroke-width="2.4"/>
<text x="1324.6" y="2208.1" font-size="24" text-anchor="end">10</text>
<line x1="1366.0" y1="2419.4" x2="1366.0" y2="2430.9" stroke="#111" stroke-width="2.4"/>
<line x1="1416.7" y1="2419.4" x2="1416.7" y2="2430.9" stroke="#111" stroke-width="2.4"/>
<text transform="translate(1266.9 2311.5) rotate(-90)" font-size="24" text-anchor="middle">CG methylation numbers</text>
<text transform="translate(1294.3 2311.5) rotate(-90)" font-size="24" text-anchor="middle">per sequence</text>
<line x1="1366.5" y1="2206.1" x2="1416.7" y2="2206.1" stroke="#111" stroke-width="2.2"/>
<text x="1390.3" y="2202.0" font-size="16.6" text-anchor="middle">***</text>
<text transform="translate(1373.5 2444.5) rotate(-45)" font-size="17.8" text-anchor="end">Normoxia</text>
<text transform="translate(1424.0 2444.5) rotate(-45)" font-size="17.8" text-anchor="end">Hypoxia</text>
</svg>
</body></html>
